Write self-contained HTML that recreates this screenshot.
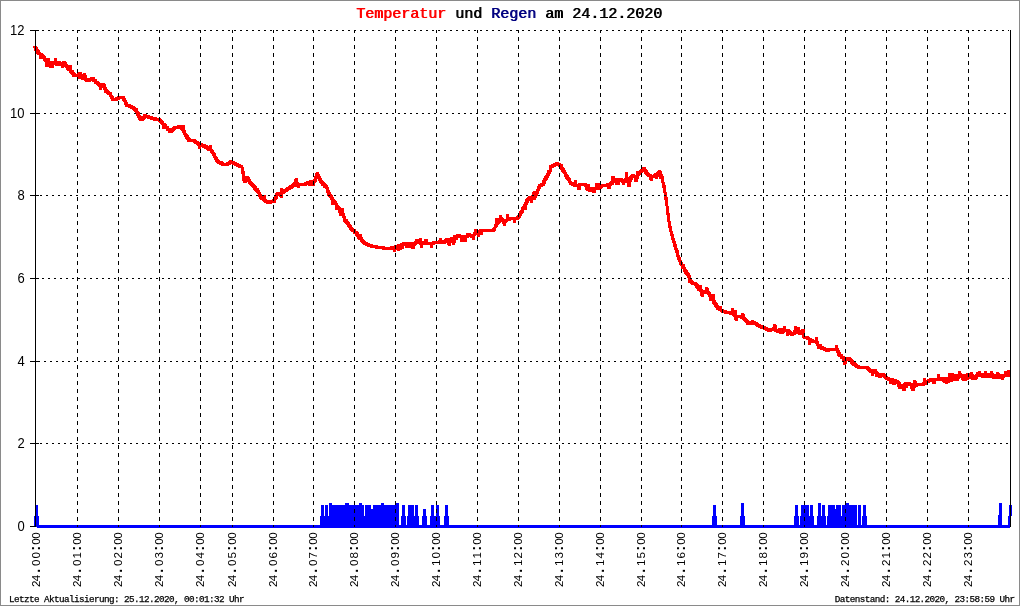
<!DOCTYPE html><html><head><meta charset="utf-8"><title>Temperatur und Regen</title><style>
html,body{margin:0;padding:0;background:#fff;}
#c{position:relative;width:1020px;height:606px;overflow:hidden;background:#fff;font-family:"Liberation Sans",sans-serif;color:#000;}
#tx{position:absolute;left:0;top:0;width:1020px;height:606px;will-change:transform;}
#b{position:absolute;left:0;top:0;width:1018px;height:604px;border:1px solid #8a8a8a;pointer-events:none;}
.yl{position:absolute;right:995.5px;font-size:14px;line-height:14px;height:14px;white-space:nowrap;transform-origin:100% 50%;transform:scaleX(0.93);}
.xl{position:absolute;font-size:11.6px;line-height:12px;height:12px;white-space:nowrap;transform-origin:0 0;transform:rotate(-90deg);}
.xl i{display:inline-block;font-style:normal;text-align:center;}
.xl b{font-size:14px;line-height:12px;}
.t{position:absolute;left:356px;top:6px;font-family:"Liberation Mono",monospace;font-weight:normal;text-shadow:0.8px 0 0 currentColor;font-size:15px;line-height:17px;white-space:pre;}
.f{position:absolute;top:595px;font-family:"Liberation Mono",monospace;font-size:9.3px;letter-spacing:-0.58px;line-height:10px;white-space:pre;font-weight:normal;-webkit-text-stroke:0.25px #000;}
</style></head><body><div id="c">
<svg width="1020" height="606" viewBox="0 0 1020 606" shape-rendering="crispEdges" style="position:absolute;left:0;top:0">
<path fill="#ff0000" d="M33.2 46.0L36.8 46.0L37.5 50.0L33.9 50.0ZM33.9 47.0L37.5 47.0L38.2 51.0L34.5 51.0ZM34.5 48.0L38.2 48.0L38.9 52.0L35.2 52.0ZM35.2 49.0L38.9 49.0L39.5 53.0L35.9 53.0ZM35.9 50.0L39.5 50.0L40.2 54.0L36.6 54.0ZM36.6 51.0L40.2 51.0L40.9 55.0L37.3 55.0ZM39.1 52.0H39.8V55.0H39.1ZM38.2 52.0L41.3 52.0L42.0 59.0L38.9 59.0ZM39.6 53.0L42.7 53.0L42.0 59.0L38.9 59.0ZM39.3 53.0L42.9 53.0L43.6 57.0L40.0 57.0ZM41.8 54.0H42.5V57.0H41.8ZM40.7 54.0L44.3 54.0L45.0 58.0L41.3 58.0ZM41.3 55.0L45.0 55.0L45.7 59.0L42.0 59.0ZM42.0 56.0L45.7 56.0L46.3 60.0L42.7 60.0ZM42.7 57.0L46.3 57.0L47.0 61.0L43.4 61.0ZM43.4 58.0L47.0 58.0L47.7 62.0L44.1 62.0ZM44.4 59.0L47.4 59.0L48.1 67.0L45.0 67.0ZM45.7 60.0L48.8 60.0L48.1 67.0L45.0 67.0ZM47.2 60.0H47.9V63.0H47.2ZM47.0 58.0L50.2 58.0L49.5 63.0L46.3 63.0ZM47.1 58.0L50.1 58.0L50.8 64.0L47.7 64.0ZM47.7 61.0L50.8 61.0L51.5 67.0L48.4 67.0ZM48.1 64.0L51.8 64.0L52.5 68.0L48.8 68.0ZM49.8 61.0L52.8 61.0L52.2 68.0L49.1 68.0ZM51.3 61.0H52.0V64.0H51.3ZM50.5 61.0L53.5 61.0L54.2 68.0L51.2 68.0ZM51.8 61.0L54.9 61.0L54.2 68.0L51.2 68.0ZM53.4 61.0H54.7V64.0H53.4ZM53.9 58.0L56.9 58.0L56.3 64.0L53.2 64.0ZM53.9 58.0L56.9 58.0L57.6 66.0L54.6 66.0ZM56.1 63.0H57.4V66.0H56.1ZM56.3 62.0L59.9 62.0L59.3 66.0L55.6 66.0ZM57.0 61.0L60.6 61.0L59.9 65.0L56.3 65.0ZM58.8 61.0H59.5V64.0H58.8ZM57.7 61.0L61.3 61.0L62.0 65.0L58.3 65.0ZM58.3 62.0L62.0 62.0L62.7 66.0L59.0 66.0ZM60.8 63.0H62.2V66.0H60.8ZM60.6 63.0L63.8 63.0L64.5 68.0L61.3 68.0ZM62.0 62.0L65.1 62.0L64.4 68.0L61.3 68.0ZM62.4 61.0L66.1 61.0L65.4 65.0L61.7 65.0ZM62.4 61.0L66.1 61.0L66.7 65.0L63.1 65.0ZM63.1 62.0L66.7 62.0L67.4 66.0L63.8 66.0ZM63.8 63.0L67.4 63.0L68.1 67.0L64.5 67.0ZM64.5 64.0L68.1 64.0L68.8 68.0L65.1 68.0ZM65.1 65.0L68.8 65.0L69.5 69.0L65.8 69.0ZM65.8 66.0L69.5 66.0L70.1 70.0L66.5 70.0ZM66.5 67.0L70.1 67.0L70.8 71.0L67.2 71.0ZM69.0 68.0H69.7V71.0H69.0ZM68.8 65.0L71.9 65.0L71.2 71.0L68.1 71.0ZM68.8 65.0L71.9 65.0L72.6 73.0L69.5 73.0ZM71.0 70.0H71.7V73.0H71.0ZM69.9 70.0L73.5 70.0L74.2 74.0L70.6 74.0ZM70.6 71.0L74.2 71.0L74.9 75.0L71.3 75.0ZM71.3 72.0L74.9 72.0L75.6 76.0L71.9 76.0ZM71.9 73.0L75.6 73.0L76.3 77.0L72.6 77.0ZM74.4 74.0H77.8V77.0H74.4ZM76.7 73.0L80.3 73.0L79.7 77.0L76.0 77.0ZM77.0 73.0L80.1 73.0L80.7 79.0L77.7 79.0ZM78.4 72.0L81.4 72.0L80.7 79.0L77.7 79.0ZM78.1 72.0L81.7 72.0L82.4 76.0L78.7 76.0ZM78.7 73.0L82.4 73.0L83.1 77.0L79.4 77.0ZM79.7 74.0L82.8 74.0L83.5 79.0L80.3 79.0ZM80.1 76.0L83.7 76.0L84.4 80.0L80.8 80.0ZM81.7 75.0L84.9 75.0L84.2 80.0L81.0 80.0ZM81.7 75.0L84.9 75.0L85.5 80.0L82.4 80.0ZM83.1 73.0L86.2 73.0L85.5 80.0L82.4 80.0ZM83.1 73.0L86.2 73.0L86.9 78.0L83.7 78.0ZM83.8 75.0L86.9 75.0L87.5 81.0L84.5 81.0ZM86.0 78.0H86.7V81.0H86.0ZM84.9 78.0L88.5 78.0L89.2 82.0L85.5 82.0ZM87.4 79.0H89.4V82.0H87.4ZM88.3 78.0L91.9 78.0L91.2 82.0L87.6 82.0ZM90.1 78.0H90.8V81.0H90.1ZM89.6 77.0L93.3 77.0L92.6 81.0L88.9 81.0ZM91.4 77.0H92.8V80.0H91.4ZM91.0 77.0L94.6 77.0L95.3 81.0L91.7 81.0ZM91.7 78.0L95.3 78.0L96.0 82.0L92.3 82.0ZM94.2 79.0H94.8V82.0H94.2ZM93.0 79.0L96.7 79.0L97.3 83.0L93.7 83.0ZM93.7 80.0L97.3 80.0L98.0 84.0L94.4 84.0ZM96.2 81.0H96.9V84.0H96.2ZM95.1 81.0L98.7 81.0L99.4 85.0L95.7 85.0ZM97.6 82.0H98.2V85.0H97.6ZM96.4 82.0L100.1 82.0L100.7 86.0L97.1 86.0ZM98.9 83.0H99.6V86.0H98.9ZM98.1 83.0L101.1 83.0L101.8 90.0L98.8 90.0ZM99.4 83.0L102.5 83.0L101.8 90.0L98.8 90.0ZM101.0 83.0H103.0V86.0H101.0ZM101.2 83.0L104.8 83.0L105.5 87.0L101.9 87.0ZM101.9 84.0L105.5 84.0L106.2 88.0L102.5 88.0ZM102.8 85.0L105.9 85.0L106.6 90.0L103.5 90.0ZM103.5 87.0L106.6 87.0L107.3 92.0L104.1 92.0ZM103.9 89.0L107.5 89.0L108.2 93.0L104.6 93.0ZM106.4 90.0H107.1V93.0H106.4ZM105.3 90.0L108.9 90.0L109.6 94.0L105.9 94.0ZM107.8 91.0H108.4V94.0H107.8ZM106.6 91.0L110.3 91.0L110.9 95.0L107.3 95.0ZM109.1 92.0H109.8V95.0H109.1ZM108.0 92.0L111.6 92.0L112.3 96.0L108.7 96.0ZM108.9 93.0L112.1 93.0L112.7 98.0L109.6 98.0ZM109.3 95.0L113.0 95.0L113.7 99.0L110.0 99.0ZM110.0 96.0L113.7 96.0L114.3 100.0L110.7 100.0ZM110.7 97.0L114.3 97.0L115.0 101.0L111.4 101.0ZM113.2 98.0H116.6V101.0H113.2ZM115.5 97.0L119.1 97.0L118.4 101.0L114.8 101.0ZM117.3 97.0H118.0V100.0H117.3ZM116.8 96.0L120.5 96.0L119.8 100.0L116.1 100.0ZM118.6 96.0H123.4V99.0H118.6ZM121.8 96.0L125.0 96.0L125.7 101.0L122.5 101.0ZM122.3 98.0L125.9 98.0L126.6 102.0L122.9 102.0ZM123.2 99.0L126.3 99.0L127.0 104.0L123.9 104.0ZM123.6 101.0L127.3 101.0L127.9 105.0L124.3 105.0ZM124.5 102.0L127.7 102.0L128.4 107.0L125.2 107.0ZM126.8 104.0H129.5V107.0H126.8ZM127.7 104.0L131.3 104.0L132.0 108.0L128.4 108.0ZM130.2 105.0H131.6V108.0H130.2ZM129.7 105.0L133.4 105.0L134.1 109.0L130.4 109.0ZM132.2 106.0H132.9V109.0H132.2ZM131.1 106.0L134.7 106.0L135.4 110.0L131.8 110.0ZM133.6 107.0H134.3V110.0H133.6ZM132.5 107.0L136.1 107.0L136.8 111.0L133.1 111.0ZM135.0 108.0H135.6V111.0H135.0ZM133.8 108.0L137.5 108.0L138.1 112.0L134.5 112.0ZM134.7 109.0L137.9 109.0L138.6 114.0L135.4 114.0ZM135.2 111.0L138.8 111.0L139.5 115.0L135.9 115.0ZM135.9 112.0L139.5 112.0L140.2 116.0L136.5 116.0ZM136.8 113.0L139.9 113.0L140.6 118.0L137.5 118.0ZM137.2 115.0L140.9 115.0L141.5 119.0L137.9 119.0ZM137.9 116.0L141.5 116.0L142.2 120.0L138.6 120.0ZM138.6 117.0L142.2 117.0L142.9 121.0L139.3 121.0ZM141.1 118.0H142.4V121.0H141.1ZM141.3 117.0L144.9 117.0L144.3 121.0L140.6 121.0ZM142.0 116.0L145.6 116.0L144.9 120.0L141.3 120.0ZM142.7 115.0L146.3 115.0L145.6 119.0L142.0 119.0ZM143.3 114.0L147.0 114.0L146.3 118.0L142.7 118.0ZM143.3 114.0L147.0 114.0L147.7 118.0L144.0 118.0ZM145.8 115.0H147.9V118.0H145.8ZM146.1 115.0L149.7 115.0L150.4 119.0L146.7 119.0ZM148.6 116.0H151.3V119.0H148.6ZM149.5 116.0L153.1 116.0L153.8 120.0L150.1 120.0ZM152.0 117.0H154.7V120.0H152.0ZM152.9 117.0L156.5 117.0L157.2 121.0L153.5 121.0ZM155.4 118.0H159.4V121.0H155.4ZM157.6 118.0L161.3 118.0L161.9 122.0L158.3 122.0ZM158.3 119.0L161.9 119.0L162.6 123.0L159.0 123.0ZM160.8 120.0H161.5V123.0H160.8ZM159.7 120.0L163.3 120.0L164.0 124.0L160.3 124.0ZM160.3 121.0L164.0 121.0L164.7 125.0L161.0 125.0ZM161.3 122.0L164.4 122.0L165.0 129.0L162.0 129.0ZM162.7 123.0L165.7 123.0L165.1 129.0L162.0 129.0ZM162.4 123.0L166.0 123.0L166.7 127.0L163.1 127.0ZM163.1 124.0L166.7 124.0L167.4 128.0L163.7 128.0ZM163.7 125.0L167.4 125.0L168.1 129.0L164.4 129.0ZM166.2 126.0H166.9V129.0H166.2ZM165.1 126.0L168.7 126.0L169.4 130.0L165.8 130.0ZM165.8 127.0L169.4 127.0L170.1 131.0L166.5 131.0ZM168.3 128.0H169.0V131.0H168.3ZM167.1 128.0L170.8 128.0L171.5 132.0L167.8 132.0ZM167.8 129.0L171.5 129.0L172.1 133.0L168.5 133.0ZM170.3 130.0H171.0V133.0H170.3ZM169.9 129.0L173.5 129.0L172.8 133.0L169.2 133.0ZM171.7 129.0H172.4V132.0H171.7ZM171.2 128.0L174.9 128.0L174.2 132.0L170.5 132.0ZM171.9 127.0L175.5 127.0L174.9 131.0L171.2 131.0ZM173.7 127.0H174.4V130.0H173.7ZM173.3 126.0L176.9 126.0L176.2 130.0L172.6 130.0ZM175.1 126.0H178.5V129.0H175.1ZM177.3 125.0L181.0 125.0L180.3 129.0L176.7 129.0ZM179.2 125.0H180.5V128.0H179.2ZM178.7 125.0L182.3 125.0L183.0 129.0L179.4 129.0ZM179.4 126.0L183.0 126.0L183.7 130.0L180.1 130.0ZM180.1 127.0L183.7 127.0L184.4 131.0L180.7 131.0ZM181.7 125.0L184.8 125.0L184.1 131.0L181.0 131.0ZM181.7 125.0L184.8 125.0L185.4 133.0L182.4 133.0ZM182.1 130.0L185.7 130.0L186.4 134.0L182.8 134.0ZM183.0 131.0L186.2 131.0L186.9 136.0L183.7 136.0ZM183.5 133.0L187.1 133.0L187.8 137.0L184.1 137.0ZM184.1 134.0L187.8 134.0L188.5 138.0L184.8 138.0ZM184.8 135.0L188.5 135.0L189.1 139.0L185.5 139.0ZM185.5 136.0L189.1 136.0L189.8 140.0L186.2 140.0ZM186.2 137.0L189.8 137.0L190.5 141.0L186.9 141.0ZM186.9 138.0L190.5 138.0L191.2 142.0L187.5 142.0ZM189.4 139.0H194.1V142.0H189.4ZM192.3 139.0L195.9 139.0L196.6 143.0L193.0 143.0ZM194.8 140.0H195.5V143.0H194.8ZM193.7 140.0L197.3 140.0L198.0 144.0L194.3 144.0ZM196.2 141.0H196.8V144.0H196.2ZM195.0 141.0L198.7 141.0L199.3 145.0L195.7 145.0ZM197.5 142.0H198.2V145.0H197.5ZM196.4 142.0L200.0 142.0L200.7 146.0L197.1 146.0ZM197.3 143.0L200.4 143.0L201.1 149.0L198.0 149.0ZM198.7 143.0L201.8 143.0L201.1 149.0L198.0 149.0ZM200.2 143.0H201.6V146.0H200.2ZM199.8 143.0L203.4 143.0L204.1 147.0L200.5 147.0ZM202.3 144.0H203.6V147.0H202.3ZM201.8 144.0L205.5 144.0L206.1 148.0L202.5 148.0ZM204.3 145.0H205.7V148.0H204.3ZM203.9 145.0L207.5 145.0L208.2 149.0L204.5 149.0ZM206.4 146.0H207.0V149.0H206.4ZM205.2 146.0L208.9 146.0L209.5 150.0L205.9 150.0ZM207.7 147.0H208.4V150.0H207.7ZM206.6 147.0L210.2 147.0L210.9 151.0L207.3 151.0ZM209.1 148.0H209.8V151.0H209.1ZM208.9 145.0L212.0 145.0L211.3 151.0L208.2 151.0ZM208.9 145.0L212.0 145.0L212.6 152.0L209.6 152.0ZM209.3 149.0L212.9 149.0L213.6 153.0L210.0 153.0ZM211.8 150.0H212.5V153.0H211.8ZM210.9 150.0L214.1 150.0L214.7 155.0L211.6 155.0ZM211.3 152.0L215.0 152.0L215.7 156.0L212.0 156.0ZM212.0 153.0L215.7 153.0L216.3 157.0L212.7 157.0ZM212.9 154.0L216.1 154.0L216.8 159.0L213.6 159.0ZM213.4 156.0L217.0 156.0L217.7 160.0L214.1 160.0ZM214.1 157.0L217.7 157.0L218.4 161.0L214.7 161.0ZM214.7 158.0L218.4 158.0L219.1 162.0L215.4 162.0ZM215.4 159.0L219.1 159.0L219.7 163.0L216.1 163.0ZM217.9 160.0H218.6V163.0H217.9ZM216.8 160.0L220.4 160.0L221.1 164.0L217.5 164.0ZM219.3 161.0H220.6V164.0H219.3ZM218.8 161.0L222.5 161.0L223.1 165.0L219.5 165.0ZM221.3 162.0H222.0V165.0H221.3ZM220.2 162.0L223.8 162.0L224.5 166.0L220.9 166.0ZM222.7 163.0H227.4V166.0H222.7ZM226.3 162.0L229.9 162.0L229.3 166.0L225.6 166.0ZM228.1 162.0H228.8V165.0H228.1ZM227.7 161.0L231.3 161.0L230.6 165.0L227.0 165.0ZM229.5 161.0H230.2V164.0H229.5ZM229.0 160.0L232.7 160.0L232.0 164.0L228.3 164.0ZM230.8 160.0H231.5V163.0H230.8ZM229.7 160.0L233.3 160.0L234.0 164.0L230.4 164.0ZM232.2 161.0H233.6V164.0H232.2ZM231.7 161.0L235.4 161.0L236.1 165.0L232.4 165.0ZM234.2 162.0H235.6V165.0H234.2ZM233.8 162.0L237.4 162.0L238.1 166.0L234.5 166.0ZM236.3 163.0H237.0V166.0H236.3ZM235.1 163.0L238.8 163.0L239.5 167.0L235.8 167.0ZM237.6 164.0H239.0V167.0H237.6ZM237.2 164.0L240.8 164.0L241.5 168.0L237.9 168.0ZM239.7 165.0H241.7V168.0H239.7ZM240.2 165.0L243.3 165.0L243.9 171.0L240.9 171.0ZM240.9 168.0L243.9 168.0L244.6 174.0L241.5 174.0ZM241.6 171.0L244.6 171.0L245.3 181.0L242.3 181.0ZM242.6 177.0L246.3 177.0L245.6 181.0L241.9 181.0ZM242.9 177.0L246.0 177.0L246.7 183.0L243.6 183.0ZM244.0 179.0L247.6 179.0L246.9 183.0L243.3 183.0ZM244.9 177.0L248.1 177.0L247.4 182.0L244.2 182.0ZM245.3 176.0L249.0 176.0L248.3 180.0L244.7 180.0ZM247.2 176.0H247.8V179.0H247.2ZM246.3 176.0L249.4 176.0L250.1 181.0L246.9 181.0ZM246.7 178.0L250.3 178.0L251.0 182.0L247.4 182.0ZM247.6 179.0L250.8 179.0L251.5 184.0L248.3 184.0ZM248.1 181.0L251.7 181.0L252.4 185.0L248.7 185.0ZM250.6 182.0H251.2V185.0H250.6ZM249.4 182.0L253.1 182.0L253.7 186.0L250.1 186.0ZM250.1 183.0L253.7 183.0L254.4 187.0L250.8 187.0ZM252.6 184.0H253.3V187.0H252.6ZM251.5 184.0L255.1 184.0L255.8 188.0L252.1 188.0ZM252.1 185.0L255.8 185.0L256.5 189.0L252.8 189.0ZM252.8 186.0L256.5 186.0L257.1 190.0L253.5 190.0ZM253.5 187.0L257.1 187.0L257.8 191.0L254.2 191.0ZM256.0 188.0H256.7V191.0H256.0ZM254.9 188.0L258.5 188.0L259.2 192.0L255.5 192.0ZM255.5 189.0L259.2 189.0L259.9 193.0L256.2 193.0ZM256.2 190.0L259.9 190.0L260.5 194.0L256.9 194.0ZM257.1 191.0L260.3 191.0L261.0 196.0L257.8 196.0ZM257.6 193.0L261.2 193.0L261.9 197.0L258.3 197.0ZM258.3 194.0L261.9 194.0L262.6 198.0L258.9 198.0ZM258.9 195.0L262.6 195.0L263.3 199.0L259.6 199.0ZM259.6 196.0L263.3 196.0L263.9 200.0L260.3 200.0ZM262.1 197.0H262.8V200.0H262.1ZM261.0 197.0L264.6 197.0L265.3 201.0L261.7 201.0ZM262.6 195.0L265.7 195.0L265.0 201.0L261.9 201.0ZM262.6 195.0L265.7 195.0L266.4 202.0L263.3 202.0ZM264.8 199.0H265.5V202.0H264.8ZM263.7 199.0L267.3 199.0L268.0 203.0L264.4 203.0ZM266.2 200.0H267.6V203.0H266.2ZM265.7 200.0L269.4 200.0L270.1 204.0L266.4 204.0ZM268.2 201.0H270.3V204.0H268.2ZM269.1 200.0L272.8 200.0L272.1 204.0L268.5 204.0ZM271.0 200.0H273.7V203.0H271.0ZM272.5 199.0L276.2 199.0L275.5 203.0L271.9 203.0ZM273.5 197.0L276.6 197.0L275.9 202.0L272.8 202.0ZM273.9 196.0L277.5 196.0L276.9 200.0L273.2 200.0ZM274.6 195.0L278.2 195.0L277.5 199.0L273.9 199.0ZM275.5 193.0L278.7 193.0L278.0 198.0L274.8 198.0ZM275.9 192.0L279.6 192.0L278.9 196.0L275.3 196.0ZM277.8 192.0H280.5V195.0H277.8ZM278.9 192.0L282.0 192.0L282.7 198.0L279.6 198.0ZM280.3 188.0L283.3 188.0L282.7 198.0L279.7 198.0ZM280.3 188.0L283.4 188.0L284.1 194.0L281.0 194.0ZM282.5 191.0H283.2V194.0H282.5ZM282.1 190.0L285.7 190.0L285.0 194.0L281.4 194.0ZM283.9 190.0H284.6V193.0H283.9ZM283.4 189.0L287.1 189.0L286.4 193.0L282.7 193.0ZM285.2 189.0H285.9V192.0H285.2ZM284.8 188.0L288.4 188.0L287.7 192.0L284.1 192.0ZM286.6 188.0H287.3V191.0H286.6ZM286.1 187.0L289.8 187.0L289.1 191.0L285.5 191.0ZM288.0 187.0H289.3V190.0H288.0ZM288.2 186.0L291.8 186.0L291.1 190.0L287.5 190.0ZM290.0 186.0H290.7V189.0H290.0ZM289.5 185.0L293.2 185.0L292.5 189.0L288.9 189.0ZM291.4 185.0H292.0V188.0H291.4ZM290.9 184.0L294.5 184.0L293.9 188.0L290.2 188.0ZM292.7 184.0H293.4V187.0H292.7ZM292.3 183.0L295.9 183.0L295.2 187.0L291.6 187.0ZM292.9 182.0L296.6 182.0L295.9 186.0L292.3 186.0ZM294.8 182.0H295.4V185.0H294.8ZM294.6 178.0L297.6 178.0L297.0 185.0L293.9 185.0ZM294.6 178.0L297.6 178.0L298.3 187.0L295.3 187.0ZM295.9 182.0L299.1 182.0L298.4 187.0L295.2 187.0ZM295.9 182.0L299.0 182.0L299.7 188.0L296.6 188.0ZM297.3 183.0L300.4 183.0L299.7 188.0L296.6 188.0ZM298.8 183.0H305.0V186.0H298.8ZM303.8 182.0L307.5 182.0L306.8 186.0L303.1 186.0ZM305.6 182.0H307.0V185.0H305.6ZM305.9 181.0L309.5 181.0L308.8 185.0L305.2 185.0ZM307.7 181.0H309.0V184.0H307.7ZM307.5 181.0L310.6 181.0L311.3 186.0L308.1 186.0ZM309.7 183.0H310.4V186.0H309.7ZM309.5 180.0L312.6 180.0L311.9 186.0L308.9 186.0ZM311.1 180.0H312.4V183.0H311.1ZM310.9 180.0L314.0 180.0L314.7 186.0L311.6 186.0ZM312.3 180.0L315.3 180.0L314.7 186.0L311.6 186.0ZM312.7 179.0L316.3 179.0L315.6 183.0L312.0 183.0ZM314.5 179.0H315.2V182.0H314.5ZM314.3 176.0L317.4 176.0L316.7 182.0L313.6 182.0ZM314.9 174.0L318.1 174.0L317.4 179.0L314.3 179.0ZM315.6 172.0L318.8 172.0L318.1 177.0L314.9 177.0ZM315.7 172.0L318.7 172.0L319.4 179.0L316.4 179.0ZM317.0 174.0L320.1 174.0L319.5 179.0L316.3 179.0ZM317.0 174.0L320.1 174.0L320.8 179.0L317.7 179.0ZM317.7 176.0L320.8 176.0L321.5 181.0L318.3 181.0ZM318.1 178.0L321.7 178.0L322.4 182.0L318.8 182.0ZM318.8 179.0L322.4 179.0L323.1 183.0L319.5 183.0ZM319.5 180.0L323.1 180.0L323.8 184.0L320.1 184.0ZM320.1 181.0L323.8 181.0L324.5 185.0L320.8 185.0ZM320.8 182.0L324.5 182.0L325.1 186.0L321.5 186.0ZM323.3 183.0H324.0V186.0H323.3ZM322.2 183.0L325.8 183.0L326.5 187.0L322.9 187.0ZM322.9 184.0L326.5 184.0L327.2 188.0L323.5 188.0ZM325.4 185.0H326.0V188.0H325.4ZM324.2 185.0L327.9 185.0L328.5 189.0L324.9 189.0ZM325.1 186.0L328.3 186.0L329.0 191.0L325.8 191.0ZM325.8 188.0L329.0 188.0L329.7 193.0L326.5 193.0ZM326.5 190.0L329.7 190.0L330.3 195.0L327.2 195.0ZM326.9 192.0L330.6 192.0L331.3 196.0L327.6 196.0ZM327.6 193.0L331.3 193.0L331.9 197.0L328.3 197.0ZM328.3 194.0L331.9 194.0L332.6 198.0L329.0 198.0ZM329.0 195.0L332.6 195.0L333.3 199.0L329.7 199.0ZM329.7 196.0L333.3 196.0L334.0 200.0L330.3 200.0ZM330.6 197.0L333.7 197.0L334.4 205.0L331.3 205.0ZM332.0 199.0L335.1 199.0L334.4 205.0L331.3 205.0ZM331.7 199.0L335.3 199.0L336.0 203.0L332.4 203.0ZM332.4 200.0L336.0 200.0L336.7 204.0L333.1 204.0ZM334.9 201.0H335.6V204.0H334.9ZM334.0 201.0L337.1 201.0L337.8 206.0L334.7 206.0ZM334.7 203.0L337.8 203.0L338.4 210.0L335.4 210.0ZM336.0 205.0L339.2 205.0L338.5 210.0L335.3 210.0ZM335.8 205.0L339.4 205.0L340.1 209.0L336.5 209.0ZM336.5 206.0L340.1 206.0L340.8 210.0L337.1 210.0ZM337.1 207.0L340.8 207.0L341.5 211.0L337.8 211.0ZM338.1 208.0L341.2 208.0L341.8 216.0L338.8 216.0ZM339.5 210.0L342.5 210.0L341.9 216.0L338.8 216.0ZM339.2 210.0L342.8 210.0L343.5 214.0L339.9 214.0ZM340.8 208.0L343.9 208.0L343.2 214.0L340.1 214.0ZM340.8 208.0L343.9 208.0L344.6 216.0L341.5 216.0ZM341.5 213.0L344.6 213.0L345.3 218.0L342.1 218.0ZM342.1 215.0L345.3 215.0L346.0 220.0L342.8 220.0ZM342.8 217.0L346.0 217.0L346.7 222.0L343.5 222.0ZM345.1 219.0H345.8V222.0H345.1ZM343.9 219.0L347.6 219.0L348.3 223.0L344.6 223.0ZM344.6 220.0L348.3 220.0L348.9 224.0L345.3 224.0ZM345.3 221.0L348.9 221.0L349.6 225.0L346.0 225.0ZM346.0 222.0L349.6 222.0L350.3 226.0L346.7 226.0ZM346.7 223.0L350.3 223.0L351.0 227.0L347.3 227.0ZM347.3 224.0L351.0 224.0L351.7 228.0L348.0 228.0ZM348.0 225.0L351.7 225.0L352.3 229.0L348.7 229.0ZM348.7 226.0L352.3 226.0L353.0 230.0L349.4 230.0ZM349.4 227.0L353.0 227.0L353.7 231.0L350.1 231.0ZM351.9 228.0H352.6V231.0H351.9ZM350.7 228.0L354.4 228.0L355.1 232.0L351.4 232.0ZM353.2 229.0H353.9V232.0H353.2ZM352.1 229.0L355.7 229.0L356.4 233.0L352.8 233.0ZM352.8 230.0L356.4 230.0L357.1 234.0L353.5 234.0ZM355.3 231.0H356.0V234.0H355.3ZM354.1 231.0L357.8 231.0L358.5 235.0L354.8 235.0ZM354.8 232.0L358.5 232.0L359.1 236.0L355.5 236.0ZM355.5 233.0L359.1 233.0L359.8 237.0L356.2 237.0ZM356.2 234.0L359.8 234.0L360.5 238.0L356.9 238.0ZM356.9 235.0L360.5 235.0L361.2 239.0L357.5 239.0ZM357.5 236.0L361.2 236.0L361.9 240.0L358.2 240.0ZM359.2 234.0L362.3 234.0L361.6 240.0L358.5 240.0ZM359.2 234.0L362.2 234.0L362.9 241.0L359.9 241.0ZM359.6 238.0L363.2 238.0L363.9 242.0L360.3 242.0ZM360.3 239.0L363.9 239.0L364.6 243.0L360.9 243.0ZM362.8 240.0H363.4V243.0H362.8ZM361.6 240.0L365.3 240.0L365.9 244.0L362.3 244.0ZM362.3 241.0L365.9 241.0L366.6 245.0L363.0 245.0ZM364.8 242.0H366.2V245.0H364.8ZM364.3 242.0L368.0 242.0L368.7 246.0L365.0 246.0ZM366.8 243.0H368.2V246.0H366.8ZM366.4 243.0L370.0 243.0L370.7 247.0L367.1 247.0ZM368.9 244.0H370.9V247.0H368.9ZM369.1 244.0L372.7 244.0L373.4 248.0L369.8 248.0ZM371.6 245.0H376.4V248.0H371.6ZM374.5 245.0L378.2 245.0L378.9 249.0L375.2 249.0ZM377.0 246.0H383.2V249.0H377.0ZM381.3 246.0L385.0 246.0L385.7 250.0L382.0 250.0ZM383.8 247.0H391.3V250.0H383.8ZM390.2 246.0L393.8 246.0L393.1 250.0L389.5 250.0ZM392.0 246.0H394.0V249.0H392.0ZM392.5 246.0L395.6 246.0L396.3 252.0L393.2 252.0ZM393.9 246.0L396.9 246.0L396.3 252.0L393.2 252.0ZM394.3 245.0L397.9 245.0L397.2 249.0L393.6 249.0ZM396.1 245.0H397.4V248.0H396.1ZM395.9 245.0L399.0 245.0L399.7 251.0L396.6 251.0ZM397.3 244.0L400.3 244.0L399.6 251.0L396.6 251.0ZM398.8 244.0H400.2V247.0H398.8ZM398.6 244.0L401.7 244.0L402.4 250.0L399.3 250.0ZM400.0 243.0L403.0 243.0L402.4 250.0L399.3 250.0ZM400.0 243.0L403.1 243.0L403.7 249.0L400.7 249.0ZM401.3 243.0L404.4 243.0L403.7 249.0L400.7 249.0ZM402.9 243.0H403.6V246.0H402.9ZM402.4 242.0L406.1 242.0L405.4 246.0L401.7 246.0ZM404.2 242.0H405.6V245.0H404.2ZM404.1 242.0L407.1 242.0L407.8 248.0L404.7 248.0ZM405.4 242.0L408.5 242.0L407.8 248.0L404.7 248.0ZM407.0 242.0H409.0V245.0H407.0ZM407.5 242.0L410.5 242.0L411.2 248.0L408.1 248.0ZM408.8 242.0L411.9 242.0L411.2 248.0L408.1 248.0ZM410.4 242.0H412.4V245.0H410.4ZM410.9 242.0L413.9 242.0L414.6 249.0L411.6 249.0ZM411.9 245.0L415.6 245.0L414.9 249.0L411.3 249.0ZM412.9 242.0L416.0 242.0L415.3 248.0L412.2 248.0ZM414.4 242.0H415.1V245.0H414.4ZM414.0 241.0L417.6 241.0L416.9 245.0L413.3 245.0ZM414.7 240.0L418.3 240.0L417.6 244.0L414.0 244.0ZM415.3 239.0L419.0 239.0L418.3 243.0L414.7 243.0ZM417.2 239.0H417.8V242.0H417.2ZM416.0 239.0L419.7 239.0L420.3 243.0L416.7 243.0ZM418.5 240.0H419.2V243.0H418.5ZM417.4 240.0L421.0 240.0L421.7 244.0L418.1 244.0ZM419.0 238.0L422.1 238.0L421.4 244.0L418.3 244.0ZM419.1 238.0L422.1 238.0L422.7 248.0L419.7 248.0ZM420.4 241.0L423.4 241.0L422.8 248.0L419.7 248.0ZM420.1 241.0L423.7 241.0L424.4 245.0L420.8 245.0ZM422.6 242.0H425.3V245.0H422.6ZM424.5 239.0L427.5 239.0L426.9 245.0L423.8 245.0ZM424.5 239.0L427.5 239.0L428.2 245.0L425.1 245.0ZM426.7 242.0H430.8V245.0H426.7ZM429.2 242.0L432.3 242.0L433.0 248.0L429.9 248.0ZM430.6 242.0L433.7 242.0L433.0 248.0L429.9 248.0ZM432.1 242.0H432.8V245.0H432.1ZM431.7 241.0L435.3 241.0L434.6 245.0L431.0 245.0ZM433.5 241.0H439.6V244.0H433.5ZM438.7 238.0L441.8 238.0L441.1 244.0L438.1 244.0ZM438.7 238.0L441.8 238.0L442.5 244.0L439.4 244.0ZM441.0 241.0H443.7V244.0H441.0ZM442.5 240.0L446.2 240.0L445.5 244.0L441.9 244.0ZM444.4 240.0H445.0V243.0H444.4ZM443.9 239.0L447.5 239.0L446.9 243.0L443.2 243.0ZM444.6 238.0L448.2 238.0L447.5 242.0L443.9 242.0ZM446.4 238.0H448.4V241.0H446.4ZM446.9 238.0L450.0 238.0L450.6 246.0L447.6 246.0ZM448.3 239.0L451.3 239.0L450.6 246.0L447.6 246.0ZM448.0 239.0L451.6 239.0L452.3 243.0L448.7 243.0ZM450.5 240.0H451.2V243.0H450.5ZM450.3 237.0L453.4 237.0L452.7 243.0L449.6 243.0ZM450.3 237.0L453.4 237.0L454.1 243.0L451.0 243.0ZM452.5 240.0H453.2V243.0H452.5ZM451.6 240.0L454.8 240.0L455.5 245.0L452.3 245.0ZM453.1 235.0L456.1 235.0L455.4 245.0L452.4 245.0ZM454.6 235.0H455.2V238.0H454.6ZM453.7 235.0L456.8 235.0L457.5 240.0L454.3 240.0ZM454.8 236.0L458.4 236.0L457.7 240.0L454.1 240.0ZM455.5 235.0L459.1 235.0L458.4 239.0L454.8 239.0ZM456.1 234.0L459.8 234.0L459.1 238.0L455.5 238.0ZM458.0 234.0H459.3V237.0H458.0ZM457.5 234.0L461.1 234.0L461.8 238.0L458.2 238.0ZM460.0 235.0H461.4V238.0H460.0ZM459.8 235.0L462.9 235.0L463.6 242.0L460.5 242.0ZM461.2 235.0L464.2 235.0L463.6 242.0L460.5 242.0ZM462.7 235.0H464.8V238.0H462.7ZM463.2 235.0L466.3 235.0L467.0 242.0L463.9 242.0ZM464.6 235.0L467.6 235.0L467.0 242.0L463.9 242.0ZM466.1 235.0H466.8V238.0H466.1ZM465.7 234.0L469.3 234.0L468.6 238.0L465.0 238.0ZM466.3 233.0L470.0 233.0L469.3 237.0L465.7 237.0ZM468.2 233.0H469.5V236.0H468.2ZM467.7 233.0L471.3 233.0L472.0 237.0L468.4 237.0ZM470.2 234.0H470.9V237.0H470.2ZM469.1 234.0L472.7 234.0L473.4 238.0L469.7 238.0ZM471.6 235.0H472.2V238.0H471.6ZM471.1 234.0L474.7 234.0L474.1 238.0L470.4 238.0ZM471.4 234.0L474.5 234.0L475.1 240.0L472.1 240.0ZM472.8 233.0L475.8 233.0L475.1 240.0L472.1 240.0ZM473.1 232.0L476.8 232.0L476.1 236.0L472.5 236.0ZM474.1 229.0L477.2 229.0L476.5 235.0L473.4 235.0ZM474.1 229.0L477.2 229.0L477.9 235.0L474.8 235.0ZM475.2 231.0L478.8 231.0L478.1 235.0L474.5 235.0ZM477.0 231.0H477.7V234.0H477.0ZM476.1 231.0L479.2 231.0L479.9 237.0L476.8 237.0ZM477.5 230.0L480.6 230.0L479.9 237.0L476.8 237.0ZM479.0 230.0H479.7V233.0H479.0ZM478.6 229.0L482.2 229.0L481.5 233.0L477.9 233.0ZM478.9 229.0L481.9 229.0L482.6 235.0L479.5 235.0ZM480.2 229.0L483.3 229.0L482.6 235.0L479.5 235.0ZM481.8 229.0H493.3V232.0H481.8ZM492.2 228.0L495.8 228.0L495.1 232.0L491.5 232.0ZM492.9 227.0L496.5 227.0L495.8 231.0L492.2 231.0ZM493.8 225.0L496.9 225.0L496.3 230.0L493.1 230.0ZM494.2 224.0L497.9 224.0L497.2 228.0L493.5 228.0ZM495.2 218.0L498.2 218.0L497.5 227.0L494.5 227.0ZM495.2 218.0L498.2 218.0L498.9 225.0L495.9 225.0ZM496.3 221.0L499.9 221.0L499.2 225.0L495.6 225.0ZM496.9 220.0L500.6 220.0L499.9 224.0L496.3 224.0ZM497.6 219.0L501.3 219.0L500.6 223.0L496.9 223.0ZM498.3 218.0L501.9 218.0L501.3 222.0L497.6 222.0ZM499.3 215.0L502.3 215.0L501.7 221.0L498.6 221.0ZM499.3 215.0L502.3 215.0L503.0 221.0L499.9 221.0ZM501.5 218.0H502.2V221.0H501.5ZM500.3 218.0L504.0 218.0L504.7 222.0L501.0 222.0ZM502.8 219.0H503.5V222.0H502.8ZM502.0 219.0L505.0 219.0L505.7 226.0L502.7 226.0ZM503.3 220.0L506.4 220.0L505.7 226.0L502.7 226.0ZM504.9 220.0H505.6V223.0H504.9ZM504.4 219.0L508.1 219.0L507.4 223.0L503.7 223.0ZM506.2 219.0H506.9V222.0H506.2ZM506.1 214.0L509.1 214.0L508.4 222.0L505.4 222.0ZM506.1 214.0L509.1 214.0L509.8 221.0L506.8 221.0ZM508.3 218.0H509.0V221.0H508.3ZM507.8 217.0L511.5 217.0L510.8 221.0L507.1 221.0ZM509.6 217.0H513.7V220.0H509.6ZM512.2 217.0L515.3 217.0L515.9 223.0L512.9 223.0ZM513.5 217.0L516.6 217.0L515.9 223.0L512.9 223.0ZM515.1 217.0H517.1V220.0H515.1ZM516.0 216.0L519.6 216.0L518.9 220.0L515.3 220.0ZM517.8 216.0H518.5V219.0H517.8ZM517.3 215.0L521.0 215.0L520.3 219.0L516.7 219.0ZM518.0 214.0L521.7 214.0L521.0 218.0L517.3 218.0ZM518.9 212.0L522.1 212.0L521.4 217.0L518.3 217.0ZM519.4 211.0L523.0 211.0L522.3 215.0L518.7 215.0ZM520.1 210.0L523.7 210.0L523.0 214.0L519.4 214.0ZM521.0 208.0L524.1 208.0L523.5 213.0L520.3 213.0ZM521.4 207.0L525.1 207.0L524.4 211.0L520.7 211.0ZM522.1 206.0L525.7 206.0L525.1 210.0L521.4 210.0ZM523.0 204.0L526.2 204.0L525.5 209.0L522.3 209.0ZM523.1 204.0L526.1 204.0L526.8 210.0L523.7 210.0ZM524.4 202.0L527.5 202.0L526.8 210.0L523.8 210.0ZM525.1 200.0L528.2 200.0L527.5 205.0L524.4 205.0ZM525.5 199.0L529.1 199.0L528.5 203.0L524.8 203.0ZM526.2 198.0L529.8 198.0L529.1 202.0L525.5 202.0ZM526.9 197.0L530.5 197.0L529.8 201.0L526.2 201.0ZM528.7 197.0H529.4V200.0H528.7ZM528.2 196.0L531.9 196.0L531.2 200.0L527.5 200.0ZM530.0 196.0H530.7V199.0H530.0ZM529.2 196.0L532.2 196.0L532.9 203.0L529.9 203.0ZM530.6 196.0L533.6 196.0L532.9 203.0L529.9 203.0ZM530.9 195.0L534.6 195.0L533.9 199.0L530.3 199.0ZM532.8 195.0H533.4V198.0H532.8ZM532.6 191.0L535.6 191.0L535.0 198.0L531.9 198.0ZM532.6 191.0L535.6 191.0L536.3 200.0L533.3 200.0ZM534.0 193.0L537.0 193.0L536.3 200.0L533.3 200.0ZM535.5 193.0H536.2V196.0H535.5ZM535.0 192.0L538.7 192.0L538.0 196.0L534.3 196.0ZM535.9 190.0L539.1 190.0L538.4 195.0L535.3 195.0ZM536.6 188.0L539.8 188.0L539.1 193.0L535.9 193.0ZM537.3 186.0L540.5 186.0L539.8 191.0L536.6 191.0ZM537.7 185.0L541.4 185.0L540.7 189.0L537.1 189.0ZM538.4 184.0L542.1 184.0L541.4 188.0L537.7 188.0ZM540.2 184.0H540.9V187.0H540.2ZM539.8 183.0L543.4 183.0L542.7 187.0L539.1 187.0ZM541.6 183.0H543.0V186.0H541.6ZM542.1 181.0L545.2 181.0L544.5 186.0L541.4 186.0ZM542.5 180.0L546.1 180.0L545.5 184.0L541.8 184.0ZM543.4 178.0L546.6 178.0L545.9 183.0L542.7 183.0ZM543.9 177.0L547.5 177.0L546.8 181.0L543.2 181.0ZM544.5 176.0L548.2 176.0L547.5 180.0L543.9 180.0ZM545.2 175.0L548.9 175.0L548.2 179.0L544.5 179.0ZM546.1 173.0L549.3 173.0L548.6 178.0L545.5 178.0ZM546.6 172.0L550.2 172.0L549.5 176.0L545.9 176.0ZM547.5 170.0L550.7 170.0L550.0 175.0L546.8 175.0ZM547.3 170.0L550.9 170.0L551.6 174.0L547.9 174.0ZM548.9 166.0L552.0 166.0L551.3 174.0L548.2 174.0ZM549.3 165.0L552.9 165.0L552.3 169.0L548.6 169.0ZM551.1 165.0H551.8V168.0H551.1ZM550.7 164.0L554.3 164.0L553.6 168.0L550.0 168.0ZM552.5 164.0H553.8V167.0H552.5ZM552.7 163.0L556.3 163.0L555.7 167.0L552.0 167.0ZM554.5 163.0H556.6V166.0H554.5ZM555.4 162.0L559.1 162.0L558.4 166.0L554.7 166.0ZM555.4 162.0L559.1 162.0L559.7 166.0L556.1 166.0ZM557.9 163.0H559.3V166.0H557.9ZM557.5 163.0L561.1 163.0L561.8 167.0L558.1 167.0ZM560.0 164.0H560.6V167.0H560.0ZM558.8 164.0L562.5 164.0L563.1 168.0L559.5 168.0ZM559.7 165.0L562.9 165.0L563.6 170.0L560.4 170.0ZM560.2 167.0L563.8 167.0L564.5 171.0L560.9 171.0ZM560.9 168.0L564.5 168.0L565.2 172.0L561.5 172.0ZM561.5 169.0L565.2 169.0L565.9 173.0L562.2 173.0ZM562.2 170.0L565.9 170.0L566.5 174.0L562.9 174.0ZM563.1 171.0L566.3 171.0L567.0 176.0L563.8 176.0ZM563.6 173.0L567.2 173.0L567.9 177.0L564.3 177.0ZM564.3 174.0L567.9 174.0L568.6 178.0L564.9 178.0ZM564.9 175.0L568.6 175.0L569.3 179.0L565.6 179.0ZM565.6 176.0L569.3 176.0L569.9 180.0L566.3 180.0ZM566.3 177.0L569.9 177.0L570.6 181.0L567.0 181.0ZM567.0 178.0L570.6 178.0L571.3 182.0L567.7 182.0ZM567.9 179.0L571.1 179.0L571.7 184.0L568.6 184.0ZM568.3 181.0L572.0 181.0L572.7 185.0L569.0 185.0ZM570.8 182.0H572.2V185.0H570.8ZM570.4 182.0L574.0 182.0L574.7 186.0L571.1 186.0ZM572.9 183.0H574.2V186.0H572.9ZM572.4 183.0L576.1 183.0L576.7 187.0L573.1 187.0ZM574.1 180.0L577.1 180.0L576.4 187.0L573.4 187.0ZM574.1 180.0L577.1 180.0L577.8 187.0L574.8 187.0ZM576.3 184.0H578.3V187.0H576.3ZM576.8 184.0L579.9 184.0L580.5 190.0L577.5 190.0ZM578.2 183.0L581.2 183.0L580.5 190.0L577.5 190.0ZM579.7 183.0H585.1V186.0H579.7ZM583.3 183.0L586.9 183.0L587.6 187.0L584.0 187.0ZM585.8 184.0H586.5V187.0H585.8ZM585.0 184.0L588.0 184.0L588.7 191.0L585.6 191.0ZM586.3 184.0L589.4 184.0L588.7 191.0L585.6 191.0ZM586.0 184.0L589.7 184.0L590.3 188.0L586.7 188.0ZM587.0 185.0L590.0 185.0L590.7 192.0L587.7 192.0ZM588.3 187.0L591.5 187.0L590.8 192.0L587.6 192.0ZM588.3 187.0L591.5 187.0L592.1 192.0L589.0 192.0ZM590.6 189.0H591.2V192.0H590.6ZM590.1 188.0L593.7 188.0L593.1 192.0L589.4 192.0ZM591.9 188.0H592.6V191.0H591.9ZM591.5 187.0L595.1 187.0L594.4 191.0L590.8 191.0ZM591.7 187.0L594.8 187.0L595.5 193.0L592.4 193.0ZM593.1 187.0L596.2 187.0L595.5 193.0L592.4 193.0ZM594.6 187.0H596.0V190.0H594.6ZM595.2 183.0L598.2 183.0L597.5 190.0L594.5 190.0ZM595.2 183.0L598.2 183.0L598.9 190.0L595.8 190.0ZM597.4 187.0H598.0V190.0H597.4ZM597.2 183.0L600.2 183.0L599.6 190.0L596.5 190.0ZM597.2 183.0L600.2 183.0L600.9 190.0L597.9 190.0ZM598.3 186.0L601.9 186.0L601.2 190.0L597.6 190.0ZM598.9 185.0L602.6 185.0L601.9 189.0L598.3 189.0ZM600.8 185.0H601.4V188.0H600.8ZM600.3 184.0L603.9 184.0L603.3 188.0L599.6 188.0ZM602.1 184.0H607.6V187.0H602.1ZM606.4 183.0L610.1 183.0L609.4 187.0L605.7 187.0ZM606.7 183.0L609.8 183.0L610.5 189.0L607.4 189.0ZM608.1 183.0L611.1 183.0L610.5 189.0L607.4 189.0ZM609.6 183.0H610.3V186.0H609.6ZM609.1 182.0L612.8 182.0L612.1 186.0L608.5 186.0ZM611.0 182.0H611.6V185.0H611.0ZM610.5 181.0L614.1 181.0L613.5 185.0L609.8 185.0ZM611.5 176.0L614.5 176.0L613.8 184.0L610.8 184.0ZM611.5 176.0L614.5 176.0L615.2 183.0L612.2 183.0ZM612.5 179.0L616.2 179.0L615.5 183.0L611.9 183.0ZM614.4 179.0H615.0V182.0H614.4ZM613.9 178.0L617.5 178.0L616.9 182.0L613.2 182.0ZM615.7 178.0H616.4V181.0H615.7ZM614.9 178.0L617.9 178.0L618.6 185.0L615.6 185.0ZM615.9 181.0L619.6 181.0L618.9 185.0L615.3 185.0ZM615.9 181.0L619.6 181.0L620.3 185.0L616.6 185.0ZM617.6 178.0L620.6 178.0L620.0 185.0L616.9 185.0ZM619.1 178.0H621.2V181.0H619.1ZM619.3 178.0L623.0 178.0L623.7 182.0L620.0 182.0ZM621.8 179.0H622.5V182.0H621.8ZM621.0 179.0L624.1 179.0L624.7 185.0L621.7 185.0ZM622.3 180.0L625.5 180.0L624.8 185.0L621.6 185.0ZM623.9 180.0H625.2V183.0H623.9ZM624.3 178.0L627.5 178.0L626.8 183.0L623.7 183.0ZM625.1 172.0L628.1 172.0L627.4 181.0L624.4 181.0ZM625.1 172.0L628.1 172.0L628.8 180.0L625.8 180.0ZM625.5 177.0L629.1 177.0L629.8 181.0L626.1 181.0ZM626.4 178.0L629.5 178.0L630.2 186.0L627.1 186.0ZM626.8 183.0L630.5 183.0L631.1 187.0L627.5 187.0ZM628.5 179.0L631.5 179.0L630.8 187.0L627.8 187.0ZM629.1 177.0L632.3 177.0L631.6 182.0L628.4 182.0ZM629.5 176.0L633.2 176.0L632.5 180.0L628.9 180.0ZM630.2 175.0L633.9 175.0L633.2 179.0L629.5 179.0ZM630.9 174.0L634.5 174.0L633.9 178.0L630.2 178.0ZM632.7 174.0H633.4V177.0H632.7ZM631.6 174.0L635.2 174.0L635.9 178.0L632.3 178.0ZM634.1 175.0H635.4V178.0H634.1ZM633.9 175.0L637.0 175.0L637.6 182.0L634.6 182.0ZM635.0 178.0L638.6 178.0L637.9 182.0L634.3 182.0ZM636.0 171.0L639.0 171.0L638.3 181.0L635.3 181.0ZM635.9 171.0L639.1 171.0L639.7 176.0L636.6 176.0ZM637.0 172.0L640.7 172.0L640.0 176.0L636.3 176.0ZM638.8 172.0H639.5V175.0H638.8ZM638.4 171.0L642.0 171.0L641.3 175.0L637.7 175.0ZM639.1 170.0L642.7 170.0L642.0 174.0L638.4 174.0ZM639.7 169.0L643.4 169.0L642.7 173.0L639.1 173.0ZM641.6 169.0H642.2V172.0H641.6ZM641.1 168.0L644.7 168.0L644.1 172.0L640.4 172.0ZM641.8 167.0L645.4 167.0L644.7 171.0L641.1 171.0ZM643.6 167.0H644.3V170.0H643.6ZM642.7 167.0L645.9 167.0L646.5 172.0L643.4 172.0ZM643.1 169.0L646.8 169.0L647.5 173.0L643.8 173.0ZM643.8 170.0L647.5 170.0L648.1 174.0L644.5 174.0ZM644.5 171.0L648.1 171.0L648.8 175.0L645.2 175.0ZM645.2 172.0L648.8 172.0L649.5 176.0L645.9 176.0ZM647.7 173.0H648.4V176.0H647.7ZM646.5 173.0L650.2 173.0L650.9 177.0L647.2 177.0ZM649.0 174.0H650.4V177.0H649.0ZM648.9 174.0L651.9 174.0L652.6 181.0L649.6 181.0ZM650.2 175.0L653.3 175.0L652.6 181.0L649.5 181.0ZM651.8 175.0H654.5V178.0H651.8ZM653.3 174.0L657.0 174.0L656.3 178.0L652.7 178.0ZM654.0 173.0L657.7 173.0L657.0 177.0L653.3 177.0ZM654.3 173.0L657.4 173.0L658.1 179.0L655.0 179.0ZM655.7 172.0L658.7 172.0L658.0 179.0L655.0 179.0ZM655.6 172.0L658.8 172.0L659.5 177.0L656.3 177.0ZM657.0 171.0L660.1 171.0L659.4 177.0L656.3 177.0ZM656.7 171.0L660.4 171.0L661.1 175.0L657.4 175.0ZM658.3 170.0L661.5 170.0L660.8 175.0L657.7 175.0ZM658.4 170.0L661.4 170.0L662.1 179.0L659.1 179.0ZM659.7 174.0L662.9 174.0L662.2 179.0L659.0 179.0ZM659.7 174.0L662.9 174.0L663.5 179.0L660.4 179.0ZM660.4 176.0L663.5 176.0L664.2 182.0L661.1 182.0ZM661.1 179.0L664.2 179.0L664.9 185.0L661.8 185.0ZM661.8 182.0L664.9 182.0L665.5 188.0L662.5 188.0ZM662.5 185.0L665.5 185.0L666.2 192.0L663.2 192.0ZM663.2 189.0L666.2 189.0L666.9 196.0L663.8 196.0ZM663.8 193.0L666.9 193.0L667.6 200.0L664.5 200.0ZM664.5 197.0L667.6 197.0L668.2 205.0L665.2 205.0ZM665.2 202.0L668.2 202.0L668.9 211.0L665.9 211.0ZM665.9 208.0L668.9 208.0L669.6 216.0L666.6 216.0ZM666.6 213.0L669.6 213.0L670.3 222.0L667.3 222.0ZM667.2 219.0L670.3 219.0L671.0 226.0L667.9 226.0ZM667.9 223.0L671.0 223.0L671.7 229.0L668.6 229.0ZM668.6 226.0L671.7 226.0L672.3 232.0L669.3 232.0ZM669.3 229.0L672.3 229.0L673.0 235.0L669.9 235.0ZM669.9 232.0L673.1 232.0L673.7 237.0L670.6 237.0ZM670.6 234.0L673.7 234.0L674.4 240.0L671.3 240.0ZM671.3 237.0L674.4 237.0L675.1 242.0L671.9 242.0ZM671.9 239.0L675.1 239.0L675.8 244.0L672.6 244.0ZM672.7 241.0L675.7 241.0L676.4 247.0L673.3 247.0ZM673.3 244.0L676.5 244.0L677.1 249.0L674.0 249.0ZM674.0 246.0L677.1 246.0L677.8 251.0L674.7 251.0ZM674.7 248.0L677.8 248.0L678.5 253.0L675.3 253.0ZM675.4 250.0L678.5 250.0L679.1 256.0L676.1 256.0ZM676.0 253.0L679.2 253.0L679.9 258.0L676.7 258.0ZM676.7 255.0L679.9 255.0L680.5 260.0L677.4 260.0ZM677.1 257.0L680.8 257.0L681.5 261.0L677.8 261.0ZM678.1 258.0L681.2 258.0L681.9 263.0L678.7 263.0ZM678.7 260.0L681.9 260.0L682.6 265.0L679.4 265.0ZM679.2 262.0L682.8 262.0L683.5 266.0L679.9 266.0ZM680.1 263.0L683.3 263.0L683.9 268.0L680.8 268.0ZM680.5 265.0L684.2 265.0L684.9 269.0L681.2 269.0ZM682.1 264.0L685.3 264.0L684.6 269.0L681.5 269.0ZM682.2 264.0L685.2 264.0L685.9 271.0L682.9 271.0ZM682.6 268.0L686.2 268.0L686.9 272.0L683.3 272.0ZM683.3 269.0L686.9 269.0L687.6 273.0L683.9 273.0ZM683.9 270.0L687.6 270.0L688.3 274.0L684.6 274.0ZM684.6 271.0L688.3 271.0L688.9 275.0L685.3 275.0ZM685.3 272.0L688.9 272.0L689.6 276.0L686.0 276.0ZM686.0 273.0L689.6 273.0L690.3 277.0L686.7 277.0ZM686.7 274.0L690.3 274.0L691.0 278.0L687.3 278.0ZM687.6 275.0L690.7 275.0L691.4 283.0L688.3 283.0ZM688.9 278.0L692.1 278.0L691.4 283.0L688.3 283.0ZM688.9 278.0L692.1 278.0L692.8 283.0L689.6 283.0ZM689.4 280.0L693.0 280.0L693.7 284.0L690.1 284.0ZM691.9 281.0H692.6V284.0H691.9ZM690.7 281.0L694.4 281.0L695.1 285.0L691.4 285.0ZM693.2 282.0H695.3V285.0H693.2ZM693.5 282.0L697.1 282.0L697.8 286.0L694.1 286.0ZM694.1 283.0L697.8 283.0L698.5 287.0L694.8 287.0ZM694.8 284.0L698.5 284.0L699.1 288.0L695.5 288.0ZM695.5 285.0L699.1 285.0L699.8 289.0L696.2 289.0ZM696.2 286.0L699.8 286.0L700.5 290.0L696.9 290.0ZM696.9 287.0L700.5 287.0L701.2 291.0L697.5 291.0ZM698.5 285.0L701.6 285.0L700.9 291.0L697.8 291.0ZM698.5 285.0L701.6 285.0L702.2 292.0L699.2 292.0ZM700.7 289.0H701.4V292.0H700.7ZM699.9 289.0L702.9 289.0L703.6 297.0L700.6 297.0ZM701.2 290.0L704.3 290.0L703.6 297.0L700.6 297.0ZM700.9 290.0L704.6 290.0L705.3 294.0L701.6 294.0ZM703.4 291.0H706.2V294.0H703.4ZM705.3 287.0L708.4 287.0L707.7 294.0L704.6 294.0ZM705.3 287.0L708.4 287.0L709.0 294.0L706.0 294.0ZM707.5 291.0H708.2V294.0H707.5ZM706.4 291.0L710.0 291.0L710.7 295.0L707.1 295.0ZM707.1 292.0L710.7 292.0L711.4 296.0L707.7 296.0ZM707.7 293.0L711.4 293.0L712.1 297.0L708.4 297.0ZM708.7 294.0L711.8 294.0L712.4 301.0L709.4 301.0ZM710.0 296.0L713.2 296.0L712.5 301.0L709.3 301.0ZM709.8 296.0L713.4 296.0L714.1 300.0L710.5 300.0ZM711.4 294.0L714.5 294.0L713.8 300.0L710.7 300.0ZM711.5 294.0L714.5 294.0L715.1 303.0L712.1 303.0ZM711.8 300.0L715.5 300.0L716.1 304.0L712.5 304.0ZM712.5 301.0L716.1 301.0L716.8 305.0L713.2 305.0ZM713.2 302.0L716.8 302.0L717.5 306.0L713.9 306.0ZM713.9 303.0L717.5 303.0L718.2 307.0L714.5 307.0ZM714.5 304.0L718.2 304.0L718.9 308.0L715.2 308.0ZM715.2 305.0L718.9 305.0L719.5 309.0L715.9 309.0ZM715.9 306.0L719.5 306.0L720.2 310.0L716.6 310.0ZM718.4 307.0H719.1V310.0H718.4ZM717.3 307.0L720.9 307.0L721.6 311.0L717.9 311.0ZM718.9 306.0L722.0 306.0L721.3 311.0L718.2 311.0ZM718.9 306.0L722.0 306.0L722.7 312.0L719.6 312.0ZM721.1 309.0H722.5V312.0H721.1ZM720.7 309.0L724.3 309.0L725.0 313.0L721.3 313.0ZM723.2 310.0H725.2V313.0H723.2ZM723.4 310.0L727.0 310.0L727.7 314.0L724.1 314.0ZM725.9 311.0H730.6V314.0H725.9ZM728.8 311.0L732.5 311.0L733.1 315.0L729.5 315.0ZM731.3 312.0H732.0V315.0H731.3ZM731.2 308.0L734.2 308.0L733.5 315.0L730.5 315.0ZM731.2 308.0L734.2 308.0L734.9 316.0L731.8 316.0ZM733.4 313.0H734.0V316.0H733.4ZM732.2 313.0L735.9 313.0L736.5 317.0L732.9 317.0ZM733.9 310.0L736.9 310.0L736.2 317.0L733.2 317.0ZM733.9 310.0L736.9 310.0L737.6 321.0L734.6 321.0ZM735.2 315.0L738.3 315.0L737.6 321.0L734.5 321.0ZM736.8 315.0H740.8V318.0H736.8ZM739.0 315.0L742.7 315.0L743.3 319.0L739.7 319.0ZM741.5 316.0H742.2V319.0H741.5ZM741.3 313.0L744.4 313.0L743.7 319.0L740.7 319.0ZM741.4 313.0L744.4 313.0L745.1 320.0L742.0 320.0ZM743.6 317.0H744.2V320.0H743.6ZM742.4 317.0L746.1 317.0L746.7 321.0L743.1 321.0ZM744.9 318.0H745.6V321.0H744.9ZM743.8 318.0L747.4 318.0L748.1 322.0L744.5 322.0ZM744.5 319.0L748.1 319.0L748.8 323.0L745.1 323.0ZM745.1 320.0L748.8 320.0L749.5 324.0L745.8 324.0ZM745.8 321.0L749.5 321.0L750.1 325.0L746.5 325.0ZM748.3 322.0H750.4V325.0H748.3ZM749.2 321.0L752.9 321.0L752.2 325.0L748.5 325.0ZM751.0 321.0H751.7V324.0H751.0ZM750.6 320.0L754.2 320.0L753.5 324.0L749.9 324.0ZM750.6 320.0L754.2 320.0L754.9 324.0L751.3 324.0ZM753.1 321.0H753.8V324.0H753.1ZM751.9 321.0L755.6 321.0L756.3 325.0L752.6 325.0ZM754.4 322.0H755.8V325.0H754.4ZM754.0 322.0L757.6 322.0L758.3 326.0L754.7 326.0ZM756.5 323.0H757.2V326.0H756.5ZM755.3 323.0L759.0 323.0L759.7 327.0L756.0 327.0ZM757.8 324.0H759.2V327.0H757.8ZM757.4 324.0L761.0 324.0L761.7 328.0L758.1 328.0ZM759.9 325.0H761.2V328.0H759.9ZM759.4 325.0L763.1 325.0L763.7 329.0L760.1 329.0ZM761.9 326.0H764.0V329.0H761.9ZM762.1 326.0L765.8 326.0L766.5 330.0L762.8 330.0ZM764.6 327.0H766.0V330.0H764.6ZM764.2 327.0L767.8 327.0L768.5 331.0L764.9 331.0ZM766.7 328.0H768.0V331.0H766.7ZM766.2 328.0L769.9 328.0L770.5 332.0L766.9 332.0ZM768.7 329.0H770.1V332.0H768.7ZM768.9 328.0L772.6 328.0L771.9 332.0L768.3 332.0ZM770.8 328.0H772.8V331.0H770.8ZM771.7 327.0L775.3 327.0L774.6 331.0L771.0 331.0ZM773.5 327.0H774.2V330.0H773.5ZM773.3 324.0L776.4 324.0L775.7 330.0L772.6 330.0ZM773.3 324.0L776.4 324.0L777.0 331.0L774.0 331.0ZM773.7 328.0L777.3 328.0L778.0 332.0L774.4 332.0ZM776.2 329.0H777.6V332.0H776.2ZM775.7 329.0L779.4 329.0L780.1 333.0L776.4 333.0ZM778.2 330.0H778.9V333.0H778.2ZM778.0 328.0L781.2 328.0L780.5 333.0L777.3 333.0ZM778.1 328.0L781.1 328.0L781.8 334.0L778.7 334.0ZM779.4 328.0L782.5 328.0L781.8 334.0L778.7 334.0ZM779.4 328.0L782.5 328.0L783.2 334.0L780.1 334.0ZM780.5 330.0L784.1 330.0L783.5 334.0L779.8 334.0ZM782.3 330.0H783.0V333.0H782.3ZM781.9 329.0L785.5 329.0L784.8 333.0L781.2 333.0ZM782.8 326.0L785.9 326.0L785.2 332.0L782.1 332.0ZM782.8 326.0L785.9 326.0L786.6 332.0L783.5 332.0ZM785.0 329.0H787.1V332.0H785.0ZM785.6 329.0L788.6 329.0L789.3 336.0L786.2 336.0ZM786.9 329.0L790.0 329.0L789.3 336.0L786.2 336.0ZM786.6 329.0L790.3 329.0L790.9 333.0L787.3 333.0ZM787.3 330.0L790.9 330.0L791.6 334.0L788.0 334.0ZM789.8 331.0H790.5V334.0H789.8ZM788.7 331.0L792.3 331.0L793.0 335.0L789.3 335.0ZM789.3 332.0L793.0 332.0L793.7 336.0L790.0 336.0ZM791.8 333.0H792.5V336.0H791.8ZM791.4 332.0L795.0 332.0L794.3 336.0L790.7 336.0ZM793.2 332.0H793.9V335.0H793.2ZM792.7 331.0L796.4 331.0L795.7 335.0L792.1 335.0ZM793.4 330.0L797.1 330.0L796.4 334.0L792.7 334.0ZM794.4 326.0L797.4 326.0L796.8 333.0L793.7 333.0ZM794.4 326.0L797.4 326.0L798.1 333.0L795.1 333.0ZM794.8 330.0L798.4 330.0L799.1 334.0L795.5 334.0ZM797.3 331.0H798.0V334.0H797.3ZM797.1 327.0L800.2 327.0L799.5 334.0L796.4 334.0ZM797.1 327.0L800.2 327.0L800.8 334.0L797.8 334.0ZM797.5 331.0L801.1 331.0L801.8 335.0L798.2 335.0ZM798.9 331.0L802.5 331.0L801.8 335.0L798.2 335.0ZM800.7 331.0H801.4V334.0H800.7ZM800.2 330.0L803.9 330.0L803.2 334.0L799.5 334.0ZM800.9 329.0L804.5 329.0L803.9 333.0L800.2 333.0ZM802.7 329.0H803.4V332.0H802.7ZM801.9 329.0L804.9 329.0L805.6 339.0L802.6 339.0ZM804.1 336.0H806.8V339.0H804.1ZM805.0 336.0L808.6 336.0L809.3 340.0L805.7 340.0ZM807.5 337.0H808.8V340.0H807.5ZM807.3 337.0L810.4 337.0L811.0 345.0L808.0 345.0ZM808.7 338.0L811.7 338.0L811.0 345.0L808.0 345.0ZM808.4 338.0L812.0 338.0L812.7 342.0L809.1 342.0ZM810.9 339.0H812.2V342.0H810.9ZM810.4 339.0L814.1 339.0L814.7 343.0L811.1 343.0ZM812.9 340.0H815.6V343.0H812.9ZM814.8 337.0L817.9 337.0L817.2 343.0L814.1 343.0ZM814.8 337.0L817.8 337.0L818.5 344.0L815.5 344.0ZM815.2 341.0L818.8 341.0L819.5 345.0L815.9 345.0ZM816.2 342.0L819.2 342.0L819.9 349.0L816.8 349.0ZM817.5 344.0L820.6 344.0L819.9 349.0L816.8 349.0ZM819.0 344.0H819.7V347.0H819.0ZM817.9 344.0L821.5 344.0L822.2 348.0L818.6 348.0ZM818.6 345.0L822.2 345.0L822.9 349.0L819.3 349.0ZM821.1 346.0H821.8V349.0H821.1ZM819.9 346.0L823.6 346.0L824.3 350.0L820.6 350.0ZM822.4 347.0H823.8V350.0H822.4ZM822.0 347.0L825.6 347.0L826.3 351.0L822.7 351.0ZM824.5 348.0H825.8V351.0H824.5ZM824.0 348.0L827.7 348.0L828.3 352.0L824.7 352.0ZM826.5 349.0H828.6V352.0H826.5ZM827.4 348.0L831.1 348.0L830.4 352.0L826.7 352.0ZM829.2 348.0H836.0V351.0H829.2ZM835.2 345.0L838.3 345.0L837.6 351.0L834.5 351.0ZM835.2 345.0L838.2 345.0L838.9 352.0L835.9 352.0ZM835.6 349.0L839.2 349.0L839.9 353.0L836.3 353.0ZM836.5 350.0L839.7 350.0L840.3 355.0L837.2 355.0ZM836.9 352.0L840.6 352.0L841.3 356.0L837.6 356.0ZM837.6 353.0L841.3 353.0L841.9 357.0L838.3 357.0ZM840.1 354.0H840.8V357.0H840.1ZM839.0 354.0L842.6 354.0L843.3 358.0L839.7 358.0ZM839.7 355.0L843.3 355.0L844.0 359.0L840.3 359.0ZM842.2 356.0H842.8V359.0H842.2ZM841.0 356.0L844.7 356.0L845.3 360.0L841.7 360.0ZM841.7 357.0L845.3 357.0L846.0 361.0L842.4 361.0ZM842.7 358.0L845.7 358.0L846.4 365.0L843.4 365.0ZM844.0 358.0L847.1 358.0L846.4 365.0L843.4 365.0ZM845.6 358.0H846.9V361.0H845.6ZM845.8 357.0L849.4 357.0L848.7 361.0L845.1 361.0ZM847.6 357.0H849.0V360.0H847.6ZM847.1 357.0L850.8 357.0L851.5 361.0L847.8 361.0ZM847.8 358.0L851.5 358.0L852.1 362.0L848.5 362.0ZM850.3 359.0H851.0V362.0H850.3ZM849.2 359.0L852.8 359.0L853.5 363.0L849.9 363.0ZM849.9 360.0L853.5 360.0L854.2 364.0L850.5 364.0ZM850.5 361.0L854.2 361.0L854.9 365.0L851.2 365.0ZM853.0 362.0H853.7V365.0H853.0ZM851.9 362.0L855.5 362.0L856.2 366.0L852.6 366.0ZM854.4 363.0H855.1V366.0H854.4ZM853.3 363.0L856.9 363.0L857.6 367.0L853.9 367.0ZM855.8 364.0H856.4V367.0H855.8ZM854.6 364.0L858.3 364.0L858.9 368.0L855.3 368.0ZM857.1 365.0H857.8V368.0H857.1ZM856.0 365.0L859.6 365.0L860.3 369.0L856.7 369.0ZM858.5 366.0H867.3V369.0H858.5ZM865.5 366.0L869.1 366.0L869.8 370.0L866.2 370.0ZM866.2 367.0L869.8 367.0L870.5 371.0L866.9 371.0ZM868.7 368.0H869.4V371.0H868.7ZM867.5 368.0L871.2 368.0L871.9 372.0L868.2 372.0ZM868.2 369.0L871.9 369.0L872.5 373.0L868.9 373.0ZM870.7 370.0H872.1V373.0H870.7ZM870.5 370.0L873.6 370.0L874.3 376.0L871.2 376.0ZM871.9 370.0L875.0 370.0L874.3 376.0L871.2 376.0ZM872.3 369.0L875.9 369.0L875.3 373.0L871.6 373.0ZM874.1 369.0H874.8V372.0H874.1ZM873.0 369.0L876.6 369.0L877.3 373.0L873.7 373.0ZM873.7 370.0L877.3 370.0L878.0 374.0L874.3 374.0ZM874.6 371.0L877.7 371.0L878.4 377.0L875.3 377.0ZM875.9 372.0L879.1 372.0L878.4 377.0L875.3 377.0ZM875.7 372.0L879.3 372.0L880.0 376.0L876.4 376.0ZM876.4 373.0L880.0 373.0L880.7 377.0L877.1 377.0ZM878.9 374.0H879.6V377.0H878.9ZM877.7 374.0L881.4 374.0L882.1 378.0L878.4 378.0ZM879.1 374.0L882.7 374.0L882.1 378.0L878.4 378.0ZM880.9 374.0H881.6V377.0H880.9ZM880.5 373.0L884.1 373.0L883.4 377.0L879.8 377.0ZM882.3 373.0H883.0V376.0H882.3ZM881.1 373.0L884.8 373.0L885.5 377.0L881.8 377.0ZM883.6 374.0H884.3V377.0H883.6ZM882.5 374.0L886.1 374.0L886.8 378.0L883.2 378.0ZM883.2 375.0L886.8 375.0L887.5 379.0L883.9 379.0ZM885.7 376.0H886.4V379.0H885.7ZM884.5 376.0L888.2 376.0L888.9 380.0L885.2 380.0ZM887.0 377.0H888.4V380.0H887.0ZM886.6 377.0L890.2 377.0L890.9 381.0L887.3 381.0ZM889.1 378.0H889.8V381.0H889.1ZM888.2 378.0L891.3 378.0L892.0 384.0L888.9 384.0ZM889.6 378.0L892.7 378.0L892.0 384.0L888.9 384.0ZM891.1 378.0H892.5V381.0H891.1ZM891.0 378.0L894.0 378.0L894.7 385.0L891.6 385.0ZM892.3 379.0L895.4 379.0L894.7 385.0L891.6 385.0ZM892.3 379.0L895.4 379.0L896.1 385.0L893.0 385.0ZM893.7 379.0L896.7 379.0L896.1 385.0L893.0 385.0ZM893.4 379.0L897.0 379.0L897.7 383.0L894.1 383.0ZM895.9 380.0H897.2V383.0H895.9ZM895.4 380.0L899.1 380.0L899.7 384.0L896.1 384.0ZM896.4 381.0L899.5 381.0L900.1 387.0L897.1 387.0ZM897.7 382.0L900.9 382.0L900.2 387.0L897.0 387.0ZM897.8 382.0L900.8 382.0L901.5 389.0L898.4 389.0ZM899.1 384.0L902.2 384.0L901.5 389.0L898.4 389.0ZM898.8 384.0L902.5 384.0L903.1 388.0L899.5 388.0ZM899.5 385.0L903.1 385.0L903.8 389.0L900.2 389.0ZM900.9 385.0L904.5 385.0L903.8 389.0L900.2 389.0ZM901.5 384.0L905.2 384.0L904.5 388.0L900.9 388.0ZM901.8 384.0L904.9 384.0L905.6 391.0L902.5 391.0ZM903.2 383.0L906.2 383.0L905.6 391.0L902.5 391.0ZM903.6 382.0L907.2 382.0L906.5 386.0L902.9 386.0ZM905.4 382.0H906.1V385.0H905.4ZM904.5 382.0L907.6 382.0L908.3 388.0L905.2 388.0ZM905.9 382.0L909.0 382.0L908.3 388.0L905.2 388.0ZM907.4 382.0H908.8V385.0H907.4ZM907.0 382.0L910.6 382.0L911.3 386.0L907.7 386.0ZM909.5 383.0H910.8V386.0H909.5ZM909.0 383.0L912.7 383.0L913.3 387.0L909.7 387.0ZM910.0 384.0L913.0 384.0L913.7 391.0L910.7 391.0ZM911.3 385.0L914.4 385.0L913.7 391.0L910.7 391.0ZM911.3 385.0L914.4 385.0L915.1 391.0L912.0 391.0ZM912.7 385.0L915.8 385.0L915.1 391.0L912.0 391.0ZM913.4 380.0L916.4 380.0L915.8 388.0L912.7 388.0ZM913.4 380.0L916.4 380.0L917.1 387.0L914.1 387.0ZM915.6 384.0H916.3V387.0H915.6ZM915.1 383.0L918.8 383.0L918.1 387.0L914.5 387.0ZM917.0 383.0H923.1V386.0H917.0ZM921.9 382.0L925.6 382.0L924.9 386.0L921.3 386.0ZM922.9 378.0L926.0 378.0L925.3 385.0L922.2 385.0ZM922.9 378.0L926.0 378.0L926.6 385.0L923.6 385.0ZM924.0 381.0L927.6 381.0L926.9 385.0L923.3 385.0ZM925.8 381.0H926.5V384.0H925.8ZM925.3 380.0L929.0 380.0L928.3 384.0L924.7 384.0ZM927.2 380.0H928.5V383.0H927.2ZM927.4 379.0L931.0 379.0L930.3 383.0L926.7 383.0ZM929.2 379.0H929.9V382.0H929.2ZM928.7 378.0L932.4 378.0L931.7 382.0L928.1 382.0ZM930.6 378.0H933.3V381.0H930.6ZM931.7 378.0L934.8 378.0L935.5 384.0L932.4 384.0ZM933.1 378.0L936.2 378.0L935.5 384.0L932.4 384.0ZM934.6 378.0H938.0V381.0H934.6ZM937.2 374.0L940.2 374.0L939.6 381.0L936.5 381.0ZM937.2 374.0L940.2 374.0L940.9 381.0L937.9 381.0ZM939.4 378.0H941.4V381.0H939.4ZM940.3 377.0L943.9 377.0L943.3 381.0L939.6 381.0ZM942.1 377.0H943.5V380.0H942.1ZM941.9 377.0L945.0 377.0L945.7 383.0L942.6 383.0ZM944.2 380.0H944.8V383.0H944.2ZM944.0 377.0L947.1 377.0L946.4 383.0L943.3 383.0ZM944.0 377.0L947.0 377.0L947.7 384.0L944.7 384.0ZM945.4 377.0L948.4 377.0L947.7 384.0L944.7 384.0ZM946.9 377.0H947.6V380.0H946.9ZM946.0 377.0L949.1 377.0L949.8 383.0L946.7 383.0ZM947.4 377.0L950.5 377.0L949.8 383.0L946.7 383.0ZM948.1 373.0L951.1 373.0L950.4 380.0L947.4 380.0ZM948.1 373.0L951.1 373.0L951.8 380.0L948.8 380.0ZM948.7 377.0L951.9 377.0L952.5 382.0L949.4 382.0ZM950.1 376.0L953.2 376.0L952.5 382.0L949.4 382.0ZM950.8 373.0L953.9 373.0L953.2 379.0L950.1 379.0ZM950.7 373.0L953.9 373.0L954.6 378.0L951.4 378.0ZM951.5 375.0L954.5 375.0L955.2 381.0L952.1 381.0ZM952.8 375.0L955.9 375.0L955.2 381.0L952.1 381.0ZM952.8 375.0L955.9 375.0L956.6 380.0L953.5 380.0ZM954.2 374.0L957.3 374.0L956.6 380.0L953.5 380.0ZM954.2 374.0L957.2 374.0L957.9 381.0L954.9 381.0ZM955.6 374.0L958.6 374.0L957.9 381.0L954.9 381.0ZM955.6 374.0L958.6 374.0L959.3 381.0L956.2 381.0ZM956.9 374.0L960.0 374.0L959.3 381.0L956.2 381.0ZM958.4 374.0H959.1V377.0H958.4ZM958.3 371.0L961.3 371.0L960.7 377.0L957.6 377.0ZM958.3 371.0L961.3 371.0L962.0 378.0L959.0 378.0ZM960.5 375.0H961.8V378.0H960.5ZM960.0 375.0L963.7 375.0L964.3 379.0L960.7 379.0ZM960.9 376.0L964.1 376.0L964.8 381.0L961.6 381.0ZM962.4 374.0L965.4 374.0L964.7 381.0L961.7 381.0ZM962.1 374.0L965.7 374.0L966.4 378.0L962.7 378.0ZM964.6 375.0H965.2V378.0H964.6ZM963.7 375.0L966.8 375.0L967.5 381.0L964.4 381.0ZM965.1 374.0L968.1 374.0L967.4 381.0L964.4 381.0ZM965.1 374.0L968.1 374.0L968.8 380.0L965.7 380.0ZM966.4 373.0L969.5 373.0L968.8 380.0L965.8 380.0ZM966.4 373.0L969.5 373.0L970.2 379.0L967.1 379.0ZM968.6 376.0H970.0V379.0H968.6ZM969.1 374.0L972.3 374.0L971.6 379.0L968.4 379.0ZM969.8 372.0L972.9 372.0L972.3 377.0L969.1 377.0ZM969.8 372.0L972.9 372.0L973.6 377.0L970.5 377.0ZM970.5 374.0L973.6 374.0L974.3 380.0L971.2 380.0ZM971.8 375.0L975.0 375.0L974.3 380.0L971.1 380.0ZM973.4 375.0H974.8V378.0H973.4ZM973.2 375.0L976.3 375.0L977.0 380.0L973.9 380.0ZM974.3 376.0L977.9 376.0L977.3 380.0L973.6 380.0ZM975.2 374.0L978.4 374.0L977.7 379.0L974.5 379.0ZM975.9 372.0L979.1 372.0L978.4 377.0L975.2 377.0ZM975.9 372.0L979.1 372.0L979.7 377.0L976.6 377.0ZM978.2 374.0H978.8V377.0H978.2ZM978.0 371.0L981.1 371.0L980.4 377.0L977.3 377.0ZM977.9 371.0L981.1 371.0L981.8 376.0L978.6 376.0ZM980.2 373.0H981.6V376.0H980.2ZM980.0 373.0L983.1 373.0L983.8 378.0L980.7 378.0ZM981.3 373.0L984.5 373.0L983.8 378.0L980.7 378.0ZM981.3 373.0L984.5 373.0L985.2 378.0L982.0 378.0ZM983.6 375.0H984.3V378.0H983.6ZM983.4 373.0L986.5 373.0L985.9 378.0L982.7 378.0ZM984.1 371.0L987.2 371.0L986.5 376.0L983.4 376.0ZM984.1 371.0L987.2 371.0L987.9 376.0L984.7 376.0ZM986.3 373.0H987.0V376.0H986.3ZM985.4 373.0L988.6 373.0L989.3 378.0L986.1 378.0ZM986.8 373.0L989.9 373.0L989.3 378.0L986.1 378.0ZM986.8 373.0L989.9 373.0L990.6 378.0L987.5 378.0ZM989.0 375.0H990.4V378.0H989.0ZM989.5 373.0L992.7 373.0L992.0 378.0L988.8 378.0ZM990.2 371.0L993.3 371.0L992.7 376.0L989.5 376.0ZM990.2 371.0L993.3 371.0L994.0 378.0L990.9 378.0ZM992.4 375.0H993.1V378.0H992.4ZM991.3 375.0L994.9 375.0L995.6 379.0L992.0 379.0ZM992.9 374.0L996.1 374.0L995.4 379.0L992.2 379.0ZM992.9 374.0L996.1 374.0L996.7 379.0L993.6 379.0ZM994.3 374.0L997.4 374.0L996.7 379.0L993.6 379.0ZM994.3 374.0L997.4 374.0L998.1 379.0L994.9 379.0ZM996.5 376.0H997.2V379.0H996.5ZM996.4 372.0L999.4 372.0L998.7 379.0L995.7 379.0ZM996.4 372.0L999.4 372.0L1000.1 379.0L997.0 379.0ZM997.7 374.0L1000.8 374.0L1000.1 379.0L997.0 379.0ZM999.2 374.0H1000.6V377.0H999.2ZM999.0 374.0L1002.2 374.0L1002.9 379.0L999.7 379.0ZM1001.3 376.0H1002.0V379.0H1001.3ZM1000.1 376.0L1003.8 376.0L1004.5 380.0L1000.8 380.0ZM1001.7 375.0L1004.9 375.0L1004.2 380.0L1001.1 380.0ZM1002.2 374.0L1005.8 374.0L1005.1 378.0L1001.5 378.0ZM1004.0 374.0H1004.7V377.0H1004.0ZM1003.8 371.0L1006.9 371.0L1006.2 377.0L1003.1 377.0ZM1003.8 371.0L1006.9 371.0L1007.6 376.0L1004.5 376.0ZM1004.9 372.0L1008.5 372.0L1007.9 376.0L1004.2 376.0ZM1005.1 372.0L1008.3 372.0L1009.0 377.0L1005.8 377.0ZM1006.6 370.0L1009.6 370.0L1008.9 377.0L1005.9 377.0ZM1006.6 370.0L1009.6 370.0L1010.3 377.0L1007.2 377.0ZM1007.9 370.0L1011.0 370.0L1010.3 377.0L1007.2 377.0ZM1009.4 370.0H1010.1V373.0H1009.4Z"/>
<rect x="34" y="525" width="977" height="2" fill="#0000ff"/>
<rect x="37" y="527" width="973" height="1" fill="#0000ff"/>
<rect x="36" y="505" width="2" height="22" fill="#0000ff"/>
<rect x="34" y="516" width="5" height="11" fill="#0000ff"/>
<rect x="320" y="516" width="79" height="11" fill="#0000ff"/>
<rect x="321" y="505" width="3" height="22" fill="#0000ff"/>
<rect x="325" y="505" width="3" height="22" fill="#0000ff"/>
<rect x="329" y="503" width="3" height="24" fill="#0000ff"/>
<rect x="332" y="505" width="13" height="22" fill="#0000ff"/>
<rect x="345" y="503" width="4" height="24" fill="#0000ff"/>
<rect x="349" y="505" width="10" height="22" fill="#0000ff"/>
<rect x="359" y="503" width="3" height="24" fill="#0000ff"/>
<rect x="362" y="505" width="2" height="22" fill="#0000ff"/>
<rect x="365" y="505" width="6" height="22" fill="#0000ff"/>
<rect x="371" y="509" width="2" height="18" fill="#0000ff"/>
<rect x="373" y="505" width="8" height="22" fill="#0000ff"/>
<rect x="381" y="503" width="3" height="24" fill="#0000ff"/>
<rect x="384" y="505" width="12" height="22" fill="#0000ff"/>
<rect x="396" y="503" width="3" height="24" fill="#0000ff"/>
<rect x="402" y="505" width="3" height="22" fill="#0000ff"/>
<rect x="401" y="516" width="5" height="11" fill="#0000ff"/>
<rect x="407" y="516" width="12" height="11" fill="#0000ff"/>
<rect x="408" y="505" width="6" height="22" fill="#0000ff"/>
<rect x="415" y="505" width="3" height="22" fill="#0000ff"/>
<rect x="423" y="509" width="3" height="18" fill="#0000ff"/>
<rect x="422" y="516" width="5" height="11" fill="#0000ff"/>
<rect x="430" y="516" width="10" height="11" fill="#0000ff"/>
<rect x="431" y="505" width="3" height="22" fill="#0000ff"/>
<rect x="436" y="505" width="3" height="22" fill="#0000ff"/>
<rect x="445" y="505" width="3" height="22" fill="#0000ff"/>
<rect x="444" y="516" width="5" height="11" fill="#0000ff"/>
<rect x="713" y="505" width="3" height="22" fill="#0000ff"/>
<rect x="712" y="516" width="5" height="11" fill="#0000ff"/>
<rect x="741" y="503" width="3" height="24" fill="#0000ff"/>
<rect x="740" y="516" width="5" height="11" fill="#0000ff"/>
<rect x="795" y="505" width="3" height="22" fill="#0000ff"/>
<rect x="794" y="516" width="5" height="11" fill="#0000ff"/>
<rect x="800" y="516" width="14" height="11" fill="#0000ff"/>
<rect x="801" y="505" width="8" height="22" fill="#0000ff"/>
<rect x="810" y="505" width="3" height="22" fill="#0000ff"/>
<rect x="817" y="516" width="9" height="11" fill="#0000ff"/>
<rect x="818" y="503" width="3" height="24" fill="#0000ff"/>
<rect x="822" y="505" width="3" height="22" fill="#0000ff"/>
<rect x="827" y="516" width="30" height="11" fill="#0000ff"/>
<rect x="828" y="505" width="7" height="22" fill="#0000ff"/>
<rect x="835" y="509" width="1" height="18" fill="#0000ff"/>
<rect x="836" y="505" width="5" height="22" fill="#0000ff"/>
<rect x="842" y="505" width="4" height="22" fill="#0000ff"/>
<rect x="846" y="503" width="3" height="24" fill="#0000ff"/>
<rect x="849" y="505" width="8" height="22" fill="#0000ff"/>
<rect x="858" y="505" width="3" height="22" fill="#0000ff"/>
<rect x="862" y="516" width="5" height="11" fill="#0000ff"/>
<rect x="863" y="505" width="3" height="22" fill="#0000ff"/>
<rect x="999" y="503" width="3" height="24" fill="#0000ff"/>
<rect x="998" y="515" width="4" height="12" fill="#0000ff"/>
<rect x="1008" y="516" width="2" height="11" fill="#0000ff"/>
<rect x="1009" y="505" width="1" height="22" fill="#0000ff"/>
<rect x="1009" y="505" width="3" height="11" fill="#0000ff"/>
<line x1="36" y1="30.5" x2="1009" y2="30.5" stroke="#000" stroke-width="1" stroke-dasharray="2 4" stroke-dashoffset="0"/>
<rect x="30" y="30" width="9" height="1" fill="#000"/>
<line x1="36" y1="113.5" x2="1009" y2="113.5" stroke="#000" stroke-width="1" stroke-dasharray="2 4" stroke-dashoffset="4"/>
<rect x="30" y="113" width="9" height="1" fill="#000"/>
<line x1="36" y1="195.5" x2="1009" y2="195.5" stroke="#000" stroke-width="1" stroke-dasharray="2 4" stroke-dashoffset="2"/>
<rect x="30" y="195" width="9" height="1" fill="#000"/>
<line x1="36" y1="278.5" x2="1009" y2="278.5" stroke="#000" stroke-width="1" stroke-dasharray="2 4" stroke-dashoffset="0"/>
<rect x="30" y="278" width="9" height="1" fill="#000"/>
<line x1="36" y1="361.5" x2="1009" y2="361.5" stroke="#000" stroke-width="1" stroke-dasharray="2 4" stroke-dashoffset="4"/>
<rect x="30" y="361" width="9" height="1" fill="#000"/>
<line x1="36" y1="443.5" x2="1009" y2="443.5" stroke="#000" stroke-width="1" stroke-dasharray="2 4" stroke-dashoffset="2"/>
<rect x="30" y="443" width="9" height="1" fill="#000"/>
<rect x="30" y="526" width="5" height="1" fill="#000"/>
<line x1="77.5" y1="30" x2="77.5" y2="527" stroke="#000" stroke-width="1" stroke-dasharray="4 4" stroke-dashoffset="1"/>
<line x1="118.5" y1="30" x2="118.5" y2="527" stroke="#000" stroke-width="1" stroke-dasharray="4 4" stroke-dashoffset="1"/>
<line x1="159.5" y1="30" x2="159.5" y2="527" stroke="#000" stroke-width="1" stroke-dasharray="4 4" stroke-dashoffset="1"/>
<line x1="200.5" y1="30" x2="200.5" y2="527" stroke="#000" stroke-width="1" stroke-dasharray="4 4" stroke-dashoffset="1"/>
<line x1="232.5" y1="30" x2="232.5" y2="527" stroke="#000" stroke-width="1" stroke-dasharray="4 4" stroke-dashoffset="1"/>
<line x1="273.5" y1="30" x2="273.5" y2="527" stroke="#000" stroke-width="1" stroke-dasharray="4 4" stroke-dashoffset="1"/>
<line x1="313.5" y1="30" x2="313.5" y2="527" stroke="#000" stroke-width="1" stroke-dasharray="4 4" stroke-dashoffset="1"/>
<line x1="354.5" y1="30" x2="354.5" y2="527" stroke="#000" stroke-width="1" stroke-dasharray="4 4" stroke-dashoffset="1"/>
<line x1="395.5" y1="30" x2="395.5" y2="527" stroke="#000" stroke-width="1" stroke-dasharray="4 4" stroke-dashoffset="1"/>
<line x1="436.5" y1="30" x2="436.5" y2="527" stroke="#000" stroke-width="1" stroke-dasharray="4 4" stroke-dashoffset="1"/>
<line x1="477.5" y1="30" x2="477.5" y2="527" stroke="#000" stroke-width="1" stroke-dasharray="4 4" stroke-dashoffset="1"/>
<line x1="518.5" y1="30" x2="518.5" y2="527" stroke="#000" stroke-width="1" stroke-dasharray="4 4" stroke-dashoffset="1"/>
<line x1="559.5" y1="30" x2="559.5" y2="527" stroke="#000" stroke-width="1" stroke-dasharray="4 4" stroke-dashoffset="1"/>
<line x1="600.5" y1="30" x2="600.5" y2="527" stroke="#000" stroke-width="1" stroke-dasharray="4 4" stroke-dashoffset="1"/>
<line x1="641.5" y1="30" x2="641.5" y2="527" stroke="#000" stroke-width="1" stroke-dasharray="4 4" stroke-dashoffset="1"/>
<line x1="681.5" y1="30" x2="681.5" y2="527" stroke="#000" stroke-width="1" stroke-dasharray="4 4" stroke-dashoffset="1"/>
<line x1="722.5" y1="30" x2="722.5" y2="527" stroke="#000" stroke-width="1" stroke-dasharray="4 4" stroke-dashoffset="1"/>
<line x1="763.5" y1="30" x2="763.5" y2="527" stroke="#000" stroke-width="1" stroke-dasharray="4 4" stroke-dashoffset="1"/>
<line x1="804.5" y1="30" x2="804.5" y2="527" stroke="#000" stroke-width="1" stroke-dasharray="4 4" stroke-dashoffset="1"/>
<line x1="845.5" y1="30" x2="845.5" y2="527" stroke="#000" stroke-width="1" stroke-dasharray="4 4" stroke-dashoffset="1"/>
<line x1="886.5" y1="30" x2="886.5" y2="527" stroke="#000" stroke-width="1" stroke-dasharray="4 4" stroke-dashoffset="1"/>
<line x1="927.5" y1="30" x2="927.5" y2="527" stroke="#000" stroke-width="1" stroke-dasharray="4 4" stroke-dashoffset="1"/>
<line x1="968.5" y1="30" x2="968.5" y2="527" stroke="#000" stroke-width="1" stroke-dasharray="4 4" stroke-dashoffset="1"/>
<rect x="1010" y="30" width="1" height="497" fill="#000"/>
<rect x="35" y="30" width="1" height="497" fill="#000"/>
</svg>
<div id="tx">
<div class="yl" style="top:23px">12</div>
<div class="yl" style="top:106px">10</div>
<div class="yl" style="top:188px">8</div>
<div class="yl" style="top:271px">6</div>
<div class="yl" style="top:354px">4</div>
<div class="yl" style="top:436px">2</div>
<div class="yl" style="top:519px">0</div>
<div class="xl" style="left:29.0px;top:586.6px"><i style="width:5.65px">2</i><i style="width:6.45px">4</i><i style="width:8.45px"><b>.</b></i><i style="width:7.65px">0</i><i style="width:7.15px">0</i><i style="width:7.05px"><b>:</b></i><i style="width:5.8px">0</i><i style="width:5.9px">0</i></div>
<div class="xl" style="left:70.0px;top:586.6px"><i style="width:5.65px">2</i><i style="width:6.45px">4</i><i style="width:8.45px"><b>.</b></i><i style="width:7.65px">0</i><i style="width:7.15px">1</i><i style="width:7.05px"><b>:</b></i><i style="width:5.8px">0</i><i style="width:5.9px">0</i></div>
<div class="xl" style="left:111.0px;top:586.6px"><i style="width:5.65px">2</i><i style="width:6.45px">4</i><i style="width:8.45px"><b>.</b></i><i style="width:7.65px">0</i><i style="width:7.15px">2</i><i style="width:7.05px"><b>:</b></i><i style="width:5.8px">0</i><i style="width:5.9px">0</i></div>
<div class="xl" style="left:152.0px;top:586.6px"><i style="width:5.65px">2</i><i style="width:6.45px">4</i><i style="width:8.45px"><b>.</b></i><i style="width:7.65px">0</i><i style="width:7.15px">3</i><i style="width:7.05px"><b>:</b></i><i style="width:5.8px">0</i><i style="width:5.9px">0</i></div>
<div class="xl" style="left:193.0px;top:586.6px"><i style="width:5.65px">2</i><i style="width:6.45px">4</i><i style="width:8.45px"><b>.</b></i><i style="width:7.65px">0</i><i style="width:7.15px">4</i><i style="width:7.05px"><b>:</b></i><i style="width:5.8px">0</i><i style="width:5.9px">0</i></div>
<div class="xl" style="left:225.0px;top:586.6px"><i style="width:5.65px">2</i><i style="width:6.45px">4</i><i style="width:8.45px"><b>.</b></i><i style="width:7.65px">0</i><i style="width:7.15px">5</i><i style="width:7.05px"><b>:</b></i><i style="width:5.8px">0</i><i style="width:5.9px">0</i></div>
<div class="xl" style="left:266.0px;top:586.6px"><i style="width:5.65px">2</i><i style="width:6.45px">4</i><i style="width:8.45px"><b>.</b></i><i style="width:7.65px">0</i><i style="width:7.15px">6</i><i style="width:7.05px"><b>:</b></i><i style="width:5.8px">0</i><i style="width:5.9px">0</i></div>
<div class="xl" style="left:306.0px;top:586.6px"><i style="width:5.65px">2</i><i style="width:6.45px">4</i><i style="width:8.45px"><b>.</b></i><i style="width:7.65px">0</i><i style="width:7.15px">7</i><i style="width:7.05px"><b>:</b></i><i style="width:5.8px">0</i><i style="width:5.9px">0</i></div>
<div class="xl" style="left:347.0px;top:586.6px"><i style="width:5.65px">2</i><i style="width:6.45px">4</i><i style="width:8.45px"><b>.</b></i><i style="width:7.65px">0</i><i style="width:7.15px">8</i><i style="width:7.05px"><b>:</b></i><i style="width:5.8px">0</i><i style="width:5.9px">0</i></div>
<div class="xl" style="left:388.0px;top:586.6px"><i style="width:5.65px">2</i><i style="width:6.45px">4</i><i style="width:8.45px"><b>.</b></i><i style="width:7.65px">0</i><i style="width:7.15px">9</i><i style="width:7.05px"><b>:</b></i><i style="width:5.8px">0</i><i style="width:5.9px">0</i></div>
<div class="xl" style="left:429.0px;top:586.6px"><i style="width:5.65px">2</i><i style="width:6.45px">4</i><i style="width:8.45px"><b>.</b></i><i style="width:7.65px">1</i><i style="width:7.15px">0</i><i style="width:7.05px"><b>:</b></i><i style="width:5.8px">0</i><i style="width:5.9px">0</i></div>
<div class="xl" style="left:470.0px;top:586.6px"><i style="width:5.65px">2</i><i style="width:6.45px">4</i><i style="width:8.45px"><b>.</b></i><i style="width:7.65px">1</i><i style="width:7.15px">1</i><i style="width:7.05px"><b>:</b></i><i style="width:5.8px">0</i><i style="width:5.9px">0</i></div>
<div class="xl" style="left:511.0px;top:586.6px"><i style="width:5.65px">2</i><i style="width:6.45px">4</i><i style="width:8.45px"><b>.</b></i><i style="width:7.65px">1</i><i style="width:7.15px">2</i><i style="width:7.05px"><b>:</b></i><i style="width:5.8px">0</i><i style="width:5.9px">0</i></div>
<div class="xl" style="left:552.0px;top:586.6px"><i style="width:5.65px">2</i><i style="width:6.45px">4</i><i style="width:8.45px"><b>.</b></i><i style="width:7.65px">1</i><i style="width:7.15px">3</i><i style="width:7.05px"><b>:</b></i><i style="width:5.8px">0</i><i style="width:5.9px">0</i></div>
<div class="xl" style="left:593.0px;top:586.6px"><i style="width:5.65px">2</i><i style="width:6.45px">4</i><i style="width:8.45px"><b>.</b></i><i style="width:7.65px">1</i><i style="width:7.15px">4</i><i style="width:7.05px"><b>:</b></i><i style="width:5.8px">0</i><i style="width:5.9px">0</i></div>
<div class="xl" style="left:634.0px;top:586.6px"><i style="width:5.65px">2</i><i style="width:6.45px">4</i><i style="width:8.45px"><b>.</b></i><i style="width:7.65px">1</i><i style="width:7.15px">5</i><i style="width:7.05px"><b>:</b></i><i style="width:5.8px">0</i><i style="width:5.9px">0</i></div>
<div class="xl" style="left:674.0px;top:586.6px"><i style="width:5.65px">2</i><i style="width:6.45px">4</i><i style="width:8.45px"><b>.</b></i><i style="width:7.65px">1</i><i style="width:7.15px">6</i><i style="width:7.05px"><b>:</b></i><i style="width:5.8px">0</i><i style="width:5.9px">0</i></div>
<div class="xl" style="left:715.0px;top:586.6px"><i style="width:5.65px">2</i><i style="width:6.45px">4</i><i style="width:8.45px"><b>.</b></i><i style="width:7.65px">1</i><i style="width:7.15px">7</i><i style="width:7.05px"><b>:</b></i><i style="width:5.8px">0</i><i style="width:5.9px">0</i></div>
<div class="xl" style="left:756.0px;top:586.6px"><i style="width:5.65px">2</i><i style="width:6.45px">4</i><i style="width:8.45px"><b>.</b></i><i style="width:7.65px">1</i><i style="width:7.15px">8</i><i style="width:7.05px"><b>:</b></i><i style="width:5.8px">0</i><i style="width:5.9px">0</i></div>
<div class="xl" style="left:797.0px;top:586.6px"><i style="width:5.65px">2</i><i style="width:6.45px">4</i><i style="width:8.45px"><b>.</b></i><i style="width:7.65px">1</i><i style="width:7.15px">9</i><i style="width:7.05px"><b>:</b></i><i style="width:5.8px">0</i><i style="width:5.9px">0</i></div>
<div class="xl" style="left:838.0px;top:586.6px"><i style="width:5.65px">2</i><i style="width:6.45px">4</i><i style="width:8.45px"><b>.</b></i><i style="width:7.65px">2</i><i style="width:7.15px">0</i><i style="width:7.05px"><b>:</b></i><i style="width:5.8px">0</i><i style="width:5.9px">0</i></div>
<div class="xl" style="left:879.0px;top:586.6px"><i style="width:5.65px">2</i><i style="width:6.45px">4</i><i style="width:8.45px"><b>.</b></i><i style="width:7.65px">2</i><i style="width:7.15px">1</i><i style="width:7.05px"><b>:</b></i><i style="width:5.8px">0</i><i style="width:5.9px">0</i></div>
<div class="xl" style="left:920.0px;top:586.6px"><i style="width:5.65px">2</i><i style="width:6.45px">4</i><i style="width:8.45px"><b>.</b></i><i style="width:7.65px">2</i><i style="width:7.15px">2</i><i style="width:7.05px"><b>:</b></i><i style="width:5.8px">0</i><i style="width:5.9px">0</i></div>
<div class="xl" style="left:961.0px;top:586.6px"><i style="width:5.65px">2</i><i style="width:6.45px">4</i><i style="width:8.45px"><b>.</b></i><i style="width:7.65px">2</i><i style="width:7.15px">3</i><i style="width:7.05px"><b>:</b></i><i style="width:5.8px">0</i><i style="width:5.9px">0</i></div>
<div class="t"><span style="color:#f00">Temperatur</span> und <span style="color:#000080">Regen</span> am 24.12.2020</div>
<div class="f" style="left:9px">Letzte Aktualisierung: 25.12.2020, 00:01:32 Uhr</div>
<div class="f" style="right:5.4px">Datenstand: 24.12.2020, 23:58:59 Uhr</div>
</div>
<div id="b"></div>
</div></body></html>
